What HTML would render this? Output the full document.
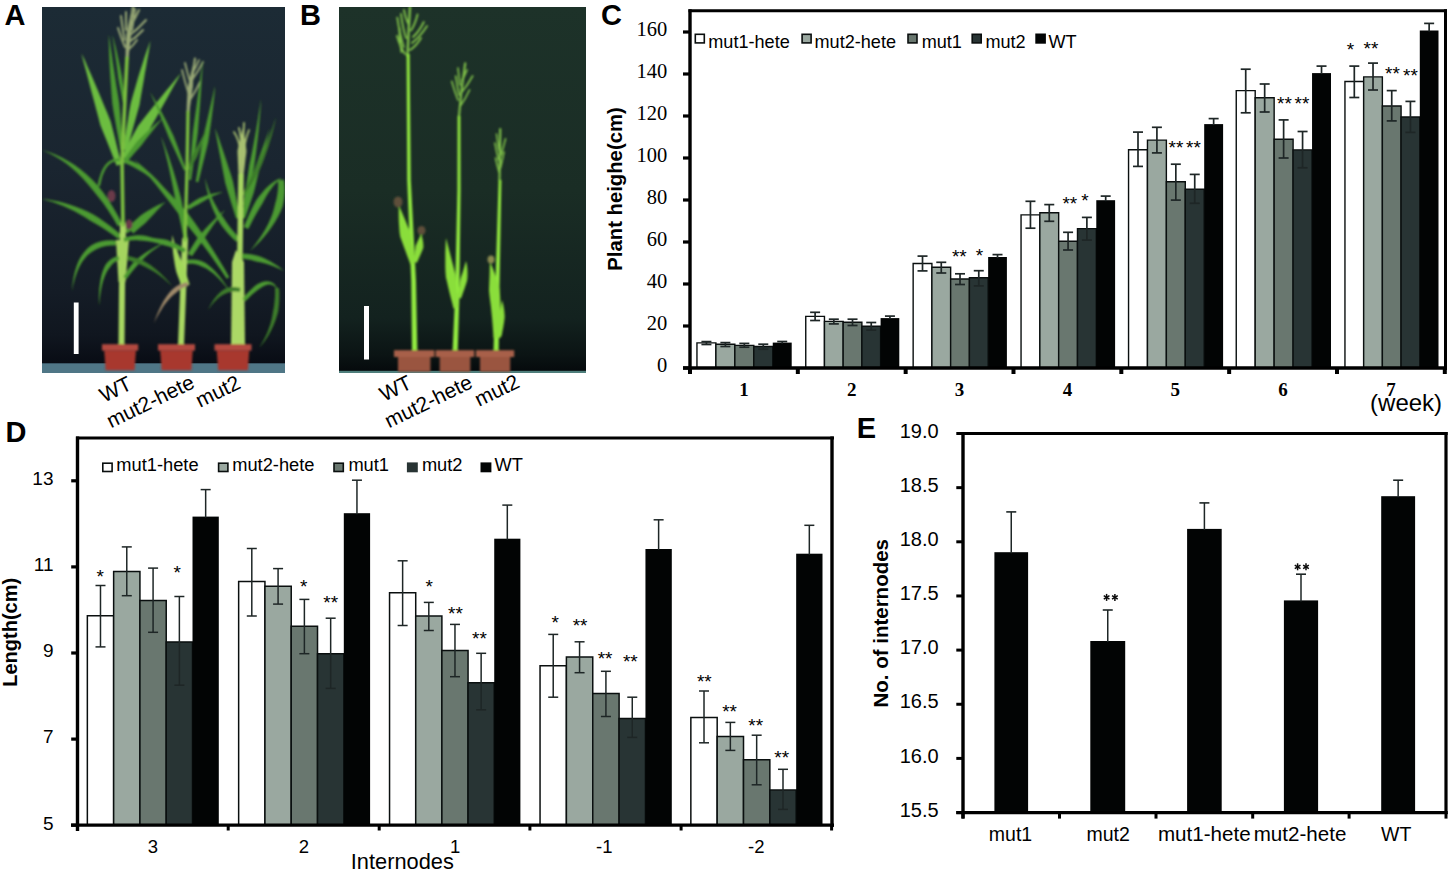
<!DOCTYPE html>
<html><head><meta charset="utf-8"><title>Figure</title>
<style>html,body{margin:0;padding:0;background:#fff;width:1450px;height:872px;overflow:hidden}svg{display:block}</style>
</head><body>
<svg width="1450" height="872" viewBox="0 0 1450 872">
<rect width="1450" height="872" fill="#fff"/>
<defs><linearGradient id="bgA" x1="0" y1="0" x2="0" y2="1"><stop offset="0" stop-color="#1c2b35"/><stop offset="0.45" stop-color="#1a2530"/><stop offset="0.8" stop-color="#141c26"/><stop offset="0.92" stop-color="#10161f"/><stop offset="1" stop-color="#080c14"/></linearGradient><linearGradient id="bgB" x1="0" y1="0" x2="0" y2="1"><stop offset="0" stop-color="#1d3229"/><stop offset="0.5" stop-color="#1a2d25"/><stop offset="0.85" stop-color="#13221f"/><stop offset="0.95" stop-color="#0b1414"/><stop offset="1" stop-color="#05090b"/></linearGradient><clipPath id="clipA"><rect x="42" y="7" width="243" height="366"/></clipPath><clipPath id="clipB"><rect x="339" y="7" width="247" height="366"/></clipPath><filter id="soft" x="-5%" y="-5%" width="110%" height="110%"><feGaussianBlur stdDeviation="0.9"/></filter></defs>
<g clip-path="url(#clipA)">
<rect x="42" y="7" width="243" height="357" fill="url(#bgA)"/>
<rect x="42" y="363.3" width="243" height="9.7" fill="#4f7686"/>
<g filter="url(#soft)">
<path d="M128.5,60.1 L128.8,56.5 L129.1,53.0 L129.5,49.4 L129.9,45.9 L130.3,42.3 L130.8,38.8 L131.2,35.2 L131.3,31.7 L131.4,28.1 L131.5,24.5 L131.6,20.9 L131.7,17.3 L131.9,13.6 L132.0,10.0 L132.0,10.0 L131.0,13.5 L130.1,17.0 L129.3,20.6 L128.5,24.1 L127.7,27.6 L127.0,31.2 L126.3,34.8 L126.1,38.4 L125.9,42.0 L125.8,45.6 L125.6,49.2 L125.6,52.8 L125.5,56.3 L125.5,59.9Z" fill="#97a774"/>
<path d="M127,58 Q129,32 133,7" fill="none" stroke="#97a774" stroke-width="2.4" stroke-linecap="round"/>
<path d="M124.5,40 Q122.75,29.5 121,16" fill="none" stroke="#97a774" stroke-width="2.0" stroke-linecap="round"/>
<path d="M125,47 Q121.5,39.0 118,28" fill="none" stroke="#97a774" stroke-width="2.0" stroke-linecap="round"/>
<path d="M130,35 Q138.0,29.0 146,20" fill="none" stroke="#97a774" stroke-width="2.0" stroke-linecap="round"/>
<path d="M129,42 Q136.0,37.5 143,30" fill="none" stroke="#97a774" stroke-width="2.0" stroke-linecap="round"/>
<path d="M131,25 Q135.0,19.0 139,10" fill="none" stroke="#97a774" stroke-width="2.0" stroke-linecap="round"/>
<path d="M128,50 Q132.5,46.5 137,40" fill="none" stroke="#97a774" stroke-width="2.0" stroke-linecap="round"/>
<path d="M126,30 Q126.0,22.5 126,12" fill="none" stroke="#97a774" stroke-width="2.0" stroke-linecap="round"/>
<path d="M132,30 Q133.5,21.0 135,9" fill="none" stroke="#97a774" stroke-width="2.0" stroke-linecap="round"/>
<path d="M121.4,164.3 L119.2,155.5 L117.1,146.9 L115.0,138.3 L112.9,129.9 L110.7,121.5 L107.5,113.6 L104.2,105.7 L101.0,98.0 L97.8,90.3 L94.6,82.8 L91.4,75.3 L88.1,67.9 L84.9,60.6 L81.5,53.5 L81.5,53.5 L83.4,61.2 L85.5,68.9 L87.5,76.6 L89.6,84.5 L91.7,92.4 L93.9,100.4 L96.0,108.5 L98.2,116.7 L100.3,124.9 L103.5,132.9 L106.8,141.0 L110.1,149.2 L113.3,157.4 L116.6,165.7Z" fill="#6cbd40"/>
<path d="M123.6,149.8 L122.6,139.9 L121.6,130.2 L120.8,120.8 L120.0,111.6 L119.2,102.7 L117.8,94.1 L116.4,85.8 L115.2,77.7 L114.0,69.9 L112.8,62.3 L111.8,54.9 L110.7,47.9 L109.8,41.0 L108.8,34.4 L108.8,34.4 L108.8,41.1 L109.0,48.0 L109.2,55.2 L109.5,62.6 L109.9,70.3 L110.4,78.2 L111.0,86.4 L111.6,94.8 L112.3,103.5 L113.7,112.4 L115.3,121.5 L116.9,130.8 L118.7,140.4 L120.4,150.2Z" fill="#4c9a30"/>
<path d="M125.9,109.9 L125.1,102.8 L124.4,96.0 L123.6,89.5 L122.9,83.2 L122.1,77.2 L121.0,71.4 L119.9,66.0 L118.8,60.8 L117.7,55.8 L116.7,51.2 L115.6,46.7 L114.5,42.6 L113.5,38.6 L112.4,35.0 L112.4,35.0 L112.9,38.8 L113.5,42.8 L114.1,47.0 L114.8,51.5 L115.4,56.3 L116.1,61.3 L116.8,66.5 L117.5,72.0 L118.2,77.8 L119.3,83.7 L120.5,90.0 L121.7,96.4 L122.9,103.1 L124.1,110.1Z" fill="#4c9a30"/>
<path d="M127.0,150.4 L129.6,140.7 L132.2,131.3 L134.7,122.2 L137.1,113.4 L139.5,104.9 L140.9,96.6 L142.3,88.5 L143.7,80.8 L144.9,73.3 L146.2,66.2 L147.3,59.4 L148.5,52.9 L149.5,46.7 L150.4,40.8 L150.4,40.8 L148.3,46.4 L146.2,52.3 L144.1,58.6 L142.0,65.2 L139.8,72.1 L137.6,79.3 L135.4,86.9 L133.1,94.8 L130.8,102.9 L129.2,111.6 L127.8,120.7 L126.2,130.0 L124.6,139.6 L123.0,149.6Z" fill="#6cbd40"/>
<path d="M126.3,159.5 L130.6,154.1 L134.9,148.7 L139.3,143.2 L143.8,137.7 L148.2,132.1 L151.6,125.8 L155.2,119.4 L158.8,113.0 L162.4,106.5 L166.1,99.9 L169.8,93.3 L173.5,86.6 L177.3,79.9 L181.0,73.0 L181.0,73.0 L175.9,78.9 L171.0,84.9 L166.1,90.8 L161.3,96.7 L156.6,102.5 L151.9,108.3 L147.3,114.1 L142.8,119.8 L138.3,125.5 L134.8,131.8 L131.4,138.0 L128.1,144.2 L124.9,150.4 L121.7,156.5Z" fill="#6cbd40"/>
<path d="M122.2,223.8 L117.7,215.3 L113.0,207.2 L108.2,199.6 L103.2,192.4 L98.0,185.7 L92.3,179.7 L86.4,174.3 L80.4,169.3 L74.3,164.8 L68.1,160.9 L61.7,157.4 L55.2,154.4 L48.7,151.9 L42.0,150.0 L42.0,150.0 L48.3,152.8 L54.5,156.0 L60.4,159.6 L66.2,163.6 L71.8,168.1 L77.3,172.9 L82.6,178.2 L87.7,184.0 L92.7,190.1 L97.9,196.4 L103.1,203.1 L108.1,210.3 L113.0,218.0 L117.8,226.2Z" fill="#4c9a30"/>
<path d="M121.6,235.0 L115.9,230.4 L110.3,226.0 L104.7,221.9 L99.1,218.0 L93.4,214.5 L87.5,211.6 L81.7,209.0 L75.9,206.7 L70.1,204.7 L64.4,203.0 L58.7,201.5 L53.1,200.4 L47.5,199.5 L42.0,199.0 L42.0,199.0 L47.3,200.5 L52.7,202.1 L58.0,204.0 L63.3,206.1 L68.6,208.5 L74.0,211.1 L79.3,214.0 L84.6,217.1 L89.9,220.5 L95.6,223.7 L101.2,227.1 L106.9,230.8 L112.7,234.7 L118.4,239.0Z" fill="#4c9a30"/>
<path d="M99,185 Q104,158 120,160" fill="none" stroke="#4c9a30" stroke-width="2.5" stroke-linecap="round"/>
<path d="M120.6,162.0 L123.9,162.9 L127.2,164.1 L130.5,165.5 L133.8,167.3 L137.3,169.3 L140.9,171.3 L144.6,173.6 L148.3,176.2 L152.1,179.1 L156.0,182.3 L159.9,185.8 L163.9,189.6 L167.9,193.7 L172.0,198.0 L172.0,198.0 L168.4,193.2 L164.8,188.7 L161.2,184.5 L157.6,180.6 L154.1,176.9 L150.5,173.5 L146.9,170.4 L143.4,167.6 L139.8,165.0 L136.1,163.0 L132.4,161.3 L128.7,159.9 L125.0,158.8 L121.4,158.0Z" fill="#4c9a30"/>
<path d="M127.4,233.5 L130.9,230.6 L134.3,227.8 L137.6,225.2 L140.9,222.7 L144.0,220.4 L146.7,217.8 L149.4,215.4 L152.0,213.1 L154.5,210.9 L157.0,208.9 L159.4,207.0 L161.7,205.2 L163.9,203.6 L166.0,202.0 L166.0,202.0 L163.5,202.9 L160.9,203.9 L158.2,205.1 L155.4,206.5 L152.6,208.1 L149.6,209.8 L146.6,211.6 L143.5,213.6 L140.3,215.8 L137.3,218.4 L134.2,221.2 L131.1,224.2 L127.9,227.3 L124.6,230.5Z" fill="#4c9a30"/>
<path d="M127.6,161.2 L130.5,157.8 L133.3,154.5 L136.1,151.3 L138.9,148.2 L141.7,145.1 L144.1,141.8 L146.5,138.6 L148.9,135.4 L151.3,132.4 L153.7,129.4 L156.0,126.4 L158.4,123.6 L160.7,120.8 L163.0,118.0 L163.0,118.0 L160.1,120.2 L157.3,122.5 L154.4,124.9 L151.6,127.4 L148.7,130.0 L145.9,132.7 L143.0,135.4 L140.1,138.3 L137.2,141.3 L134.6,144.6 L132.1,148.0 L129.5,151.5 L127.0,155.1 L124.4,158.8Z" fill="#4c9a30"/>
<path d="M121.5,345.0 L122.0,290.0 L123.0,225.0" fill="none" stroke="#a8d862" stroke-width="6.0" stroke-linecap="round" stroke-linejoin="round"/>
<path d="M123.0,225.0 L122.0,160.0 L127.0,58.0" fill="none" stroke="#7cc040" stroke-width="3.6" stroke-linecap="round" stroke-linejoin="round"/>
<path d="M116.0,240.0 L129.0,240.0 L125.5,282.0 L118.5,282.0Z" fill="#a4d45e"/>
<path d="M116.2,240.5 L110.7,240.2 L105.4,240.6 L100.4,241.5 L95.7,243.0 L91.4,245.2 L87.6,248.3 L84.3,251.9 L81.3,256.0 L78.8,260.6 L76.7,265.7 L75.0,271.3 L73.6,277.3 L72.6,283.9 L72.0,291.0 L72.0,291.0 L73.4,284.1 L75.1,277.7 L77.1,272.0 L79.4,266.8 L81.9,262.3 L84.7,258.4 L87.7,255.1 L91.0,252.4 L94.5,250.3 L98.0,248.4 L101.9,246.9 L106.2,245.9 L110.8,245.4 L115.8,245.5Z" fill="#4c9a30"/>
<path d="M118.6,256.0 L115.6,256.8 L112.8,258.1 L110.2,259.8 L107.8,261.9 L105.7,264.6 L104.1,267.7 L102.7,271.2 L101.5,275.1 L100.6,279.3 L99.9,283.9 L99.3,288.9 L99.0,294.2 L98.9,299.9 L99.0,306.0 L99.0,306.0 L99.6,299.9 L100.3,294.3 L101.2,289.1 L102.2,284.3 L103.4,280.0 L104.8,276.2 L106.3,272.8 L108.0,269.8 L109.8,267.4 L111.4,265.2 L113.2,263.3 L115.1,261.9 L117.1,260.7 L119.4,260.0Z" fill="#4c9a30"/>
<path d="M124.6,241.9 L127.6,241.1 L130.6,240.6 L133.6,240.3 L136.8,240.1 L140.0,240.2 L143.3,240.1 L146.7,240.2 L150.3,240.5 L154.0,241.1 L157.7,241.9 L161.6,242.8 L165.6,244.0 L169.8,245.4 L174.0,247.0 L174.0,247.0 L170.0,244.8 L166.1,242.8 L162.2,241.1 L158.4,239.6 L154.7,238.3 L150.9,237.2 L147.3,236.3 L143.7,235.6 L140.1,235.2 L136.5,235.3 L133.1,235.7 L129.8,236.3 L126.5,237.1 L123.4,238.1Z" fill="#4c9a30"/>
<path d="M126.7,279.0 L128.7,276.1 L130.8,273.2 L133.0,270.4 L135.3,267.7 L137.7,265.1 L140.1,262.4 L142.6,259.7 L145.2,257.1 L148.0,254.6 L150.9,252.1 L154.0,249.8 L157.2,247.4 L160.5,245.2 L164.0,243.0 L164.0,243.0 L160.2,244.6 L156.5,246.3 L153.0,248.2 L149.5,250.2 L146.2,252.3 L143.0,254.5 L139.9,256.8 L137.0,259.2 L134.1,261.7 L131.7,264.6 L129.4,267.6 L127.2,270.6 L125.2,273.8 L123.3,277.0Z" fill="#4c9a30"/>
<path d="M126.7,260.0 L129.8,260.7 L132.9,261.7 L136.0,262.8 L139.1,264.1 L142.2,265.6 L145.4,267.0 L148.7,268.7 L152.0,270.5 L155.3,272.6 L158.6,274.8 L161.9,277.3 L165.3,280.0 L168.6,282.9 L172.0,286.0 L172.0,286.0 L169.1,282.4 L166.1,279.1 L163.1,275.9 L160.1,273.0 L157.0,270.2 L153.9,267.7 L150.8,265.3 L147.6,263.2 L144.4,261.2 L141.0,259.7 L137.6,258.5 L134.2,257.4 L130.8,256.6 L127.3,256.0Z" fill="#3d7d2a"/>
<ellipse cx="111.5" cy="196" rx="4" ry="6" fill="#6a3a4a"/>
<ellipse cx="129" cy="224.5" rx="3.5" ry="5" fill="#6a3a4a"/>
<path d="M189.5,112.1 L189.9,108.3 L190.4,104.5 L190.9,100.8 L191.4,97.1 L191.9,93.5 L192.4,89.9 L193.0,86.3 L193.1,82.7 L193.2,79.2 L193.4,75.7 L193.5,72.2 L193.7,68.8 L193.9,65.4 L194.0,62.0 L194.0,62.0 L193.0,65.2 L192.1,68.5 L191.2,71.9 L190.4,75.3 L189.6,78.7 L188.8,82.2 L188.0,85.7 L187.7,89.3 L187.5,93.0 L187.2,96.7 L187.0,100.4 L186.8,104.2 L186.7,108.0 L186.5,111.9Z" fill="#97a774"/>
<path d="M188,112 Q191,85 195,58.6" fill="none" stroke="#97a774" stroke-width="2.2" stroke-linecap="round"/>
<path d="M189,95 Q185.5,84.0 182,70" fill="none" stroke="#97a774" stroke-width="1.8" stroke-linecap="round"/>
<path d="M191,85 Q188.0,75.5 185,63" fill="none" stroke="#97a774" stroke-width="1.8" stroke-linecap="round"/>
<path d="M192,80 Q197.5,72.5 203,62" fill="none" stroke="#97a774" stroke-width="1.8" stroke-linecap="round"/>
<path d="M190,100 Q195.0,92.5 200,82" fill="none" stroke="#97a774" stroke-width="1.8" stroke-linecap="round"/>
<path d="M193,72 Q196.0,67.5 199,60" fill="none" stroke="#97a774" stroke-width="1.8" stroke-linecap="round"/>
<path d="M191.1,180.1 L192.5,170.3 L193.9,160.6 L195.2,151.1 L196.6,141.8 L197.8,132.7 L198.5,123.7 L199.2,115.0 L199.9,106.4 L200.5,98.0 L201.1,89.8 L201.6,81.8 L202.1,74.0 L202.6,66.4 L203.0,59.0 L203.0,59.0 L201.9,66.3 L200.9,73.9 L199.8,81.6 L198.7,89.6 L197.6,97.7 L196.5,106.0 L195.3,114.5 L194.1,123.2 L192.9,132.2 L192.1,141.3 L191.3,150.7 L190.5,160.2 L189.7,169.9 L188.9,179.9Z" fill="#4c9a30"/>
<path d="M198.3,182.3 L200.5,173.6 L202.5,165.3 L204.5,157.2 L206.4,149.4 L208.2,141.9 L209.3,134.5 L210.3,127.4 L211.3,120.7 L212.1,114.2 L212.9,108.0 L213.6,102.0 L214.2,96.4 L214.7,91.1 L215.0,86.0 L215.0,86.0 L213.8,90.9 L212.7,96.2 L211.4,101.7 L210.1,107.5 L208.7,113.5 L207.2,119.9 L205.7,126.6 L204.0,133.5 L202.3,140.7 L201.1,148.3 L199.9,156.2 L198.6,164.5 L197.2,172.9 L195.7,181.7Z" fill="#4c9a30"/>
<path d="M186.0,169.6 L183.5,162.4 L180.9,155.5 L178.5,148.8 L176.0,142.3 L173.6,136.1 L170.8,130.3 L168.1,124.7 L165.3,119.3 L162.7,114.2 L160.1,109.3 L157.5,104.6 L155.0,100.2 L152.5,96.0 L150.0,92.0 L150.0,92.0 L151.9,96.3 L153.8,100.7 L155.8,105.4 L157.9,110.3 L160.0,115.4 L162.2,120.8 L164.4,126.3 L166.7,132.1 L169.1,138.1 L171.9,144.1 L174.8,150.3 L177.8,156.8 L180.9,163.5 L184.0,170.4Z" fill="#4c9a30"/>
<path d="M188.0,239.7 L186.7,231.1 L185.4,222.7 L184.0,214.5 L182.6,206.5 L181.1,198.6 L179.1,190.9 L177.1,183.4 L174.9,176.1 L172.8,169.0 L170.5,162.1 L168.3,155.3 L165.9,148.7 L163.5,142.2 L161.0,136.0 L161.0,136.0 L162.7,142.5 L164.5,149.1 L166.1,155.9 L167.8,162.8 L169.4,169.9 L170.9,177.2 L172.4,184.6 L173.9,192.1 L175.3,199.8 L177.1,207.6 L178.9,215.5 L180.7,223.6 L182.4,231.9 L184.0,240.3Z" fill="#4c9a30"/>
<path d="M229.3,277.2 L224.1,268.0 L218.6,258.9 L213.0,249.9 L207.2,240.9 L201.2,231.9 L195.0,223.1 L188.6,214.3 L181.4,206.1 L174.0,198.0 L166.3,190.0 L158.6,182.1 L150.6,174.3 L142.4,166.6 L134.0,159.0 L134.0,159.0 L141.4,167.5 L148.7,176.0 L155.8,184.6 L162.7,193.2 L169.4,201.8 L176.0,210.5 L182.4,219.2 L189.2,227.5 L195.9,235.8 L202.4,244.3 L208.8,252.8 L214.9,261.4 L220.9,270.0 L226.7,278.8Z" fill="#4c9a30"/>
<path d="M189.0,170.5 L190.7,167.8 L192.3,165.0 L194.0,162.3 L195.6,159.5 L197.1,156.8 L198.2,153.8 L199.3,150.8 L200.3,147.8 L201.4,144.9 L202.4,141.9 L203.3,138.9 L204.3,136.0 L205.2,133.0 L206.0,130.0 L206.0,130.0 L204.5,132.7 L203.1,135.5 L201.6,138.2 L200.2,141.0 L198.7,143.7 L197.2,146.4 L195.7,149.2 L194.2,151.9 L192.6,154.7 L191.5,157.6 L190.4,160.6 L189.3,163.5 L188.2,166.5 L187.0,169.5Z" fill="#3d7d2a"/>
<path d="M189.2,209.6 L191.6,208.1 L194.1,206.6 L196.5,205.2 L199.0,203.9 L201.4,202.6 L203.7,201.2 L206.1,199.8 L208.4,198.5 L210.8,197.2 L213.2,196.1 L215.6,195.0 L218.1,193.9 L220.5,192.9 L223.0,192.0 L223.0,192.0 L220.3,192.3 L217.7,192.7 L215.0,193.2 L212.4,193.8 L209.7,194.5 L207.1,195.3 L204.4,196.2 L201.8,197.2 L199.1,198.3 L196.6,199.7 L194.1,201.2 L191.7,202.9 L189.3,204.6 L186.8,206.4Z" fill="#4c9a30"/>
<path d="M181.0,345.0 L183.0,294.0 L185.0,240.0" fill="none" stroke="#a8d862" stroke-width="6.0" stroke-linecap="round" stroke-linejoin="round"/>
<path d="M185.0,240.0 L187.0,170.0 L188.0,112.0" fill="none" stroke="#7cc040" stroke-width="3.3" stroke-linecap="round" stroke-linejoin="round"/>
<path d="M189.7,284.6 L188.5,280.9 L187.3,277.2 L186.1,273.5 L185.0,269.9 L183.6,266.3 L182.1,262.9 L180.7,259.4 L179.3,255.9 L178.0,252.4 L176.7,248.9 L175.5,245.4 L174.3,242.0 L173.2,238.5 L172.0,235.0 L172.0,235.0 L172.0,238.7 L172.2,242.4 L172.5,246.1 L172.8,249.8 L173.2,253.6 L173.7,257.3 L174.3,261.1 L174.9,264.9 L175.6,268.8 L176.5,272.6 L177.9,276.3 L179.3,280.0 L180.7,283.7 L182.3,287.4Z" fill="#a2d85a"/>
<path d="M186.0,249.3 L182.4,247.0 L178.6,244.9 L174.7,243.0 L170.6,241.3 L166.4,239.8 L162.0,239.0 L157.4,238.4 L152.8,238.0 L148.0,237.8 L143.2,237.8 L138.3,238.1 L133.3,238.5 L128.2,239.1 L123.0,240.0 L123.0,240.0 L128.3,239.9 L133.4,240.0 L138.3,240.3 L143.1,240.7 L147.7,241.3 L152.2,242.1 L156.6,243.1 L160.8,244.2 L164.8,245.6 L168.8,246.6 L172.8,247.9 L176.6,249.3 L180.3,250.9 L184.0,252.7Z" fill="#4c9a30"/>
<path d="M133.4,233.5 L136.0,231.1 L138.6,228.8 L141.1,226.6 L143.7,224.4 L146.2,222.2 L148.4,219.8 L150.6,217.5 L152.7,215.2 L154.9,212.9 L157.0,210.6 L159.0,208.4 L161.1,206.3 L163.1,204.1 L165.0,202.0 L165.0,202.0 L162.6,203.6 L160.2,205.3 L157.8,207.1 L155.4,208.9 L152.9,210.7 L150.4,212.6 L147.9,214.5 L145.4,216.5 L142.8,218.5 L140.4,220.8 L138.0,223.2 L135.6,225.6 L133.1,228.1 L130.6,230.5Z" fill="#4c9a30"/>
<path d="M192.1,256.3 L194.4,252.8 L196.7,249.4 L199.0,246.1 L201.4,242.8 L203.8,239.5 L205.9,236.1 L208.1,232.7 L210.4,229.4 L212.7,226.0 L215.1,222.8 L217.5,219.5 L219.9,216.3 L222.5,213.2 L225.0,210.0 L225.0,210.0 L221.9,212.6 L218.8,215.3 L215.8,218.1 L212.9,220.9 L210.0,223.8 L207.2,226.8 L204.4,229.8 L201.6,232.9 L198.9,236.0 L196.6,239.5 L194.3,243.0 L192.1,246.5 L190.0,250.1 L187.9,253.7Z" fill="#4c9a30"/>
<path d="M187.4,264.0 L190.1,263.7 L192.9,263.8 L195.6,264.3 L198.3,265.1 L201.1,266.2 L204.1,267.5 L207.1,269.1 L210.2,271.2 L213.4,273.6 L216.6,276.5 L219.9,279.8 L223.2,283.4 L226.6,287.5 L230.0,292.0 L230.0,292.0 L227.1,287.1 L224.2,282.7 L221.3,278.6 L218.4,274.9 L215.4,271.5 L212.4,268.5 L209.4,265.9 L206.3,263.6 L203.1,261.7 L199.8,260.5 L196.5,259.8 L193.2,259.4 L189.9,259.5 L186.6,260.0Z" fill="#4c9a30"/>
<path d="M187.6,282.0 L184.5,282.7 L181.5,283.8 L178.6,285.1 L175.7,286.8 L172.9,288.9 L170.4,291.5 L168.0,294.5 L165.7,297.7 L163.6,301.1 L161.5,304.9 L159.5,309.0 L157.5,313.4 L155.7,318.0 L154.0,323.0 L154.0,323.0 L156.3,318.3 L158.7,313.9 L161.1,309.9 L163.5,306.1 L166.0,302.8 L168.5,299.7 L171.0,297.0 L173.5,294.7 L176.1,292.7 L178.4,290.8 L180.8,289.1 L183.3,287.8 L185.8,286.7 L188.4,286.0Z" fill="#a08a6a"/>
<path d="M243.5,176.1 L243.9,172.4 L244.4,168.8 L244.8,165.2 L245.2,161.6 L245.6,158.1 L246.1,154.6 L246.5,151.2 L246.1,147.8 L245.6,144.4 L245.1,141.0 L244.7,137.7 L244.2,134.4 L243.6,131.2 L243.0,128.0 L243.0,128.0 L242.1,131.1 L241.3,134.3 L240.5,137.5 L239.7,140.8 L239.0,144.1 L238.2,147.4 L237.5,150.8 L237.6,154.3 L237.8,157.8 L237.9,161.3 L238.1,164.9 L238.2,168.5 L238.4,172.2 L238.5,175.9Z" fill="#a8c070"/>
<path d="M241,176 Q243,145 244,123" fill="none" stroke="#a8c070" stroke-width="1.8" stroke-linecap="round"/>
<path d="M241,176 Q243,145 234,132" fill="none" stroke="#a8c070" stroke-width="1.8" stroke-linecap="round"/>
<path d="M241,176 Q243,145 249,130" fill="none" stroke="#a8c070" stroke-width="1.8" stroke-linecap="round"/>
<path d="M241,176 Q243,145 239,128" fill="none" stroke="#a8c070" stroke-width="1.8" stroke-linecap="round"/>
<path d="M239.9,217.5 L238.5,209.9 L237.1,202.5 L235.7,195.2 L234.3,188.1 L232.9,181.2 L230.9,174.6 L228.8,168.2 L226.8,162.0 L224.8,155.9 L222.8,150.0 L220.8,144.2 L218.9,138.6 L217.0,133.2 L215.0,128.0 L215.0,128.0 L215.9,133.5 L216.9,139.2 L218.0,145.0 L219.1,150.9 L220.3,157.1 L221.5,163.3 L222.7,169.8 L224.0,176.4 L225.3,183.2 L227.3,189.9 L229.4,196.8 L231.6,203.9 L233.8,211.1 L236.1,218.5Z" fill="#4c9a30"/>
<path d="M244.9,218.5 L246.6,213.8 L248.3,208.8 L250.1,203.6 L252.0,198.1 L253.9,192.3 L255.4,186.2 L256.9,179.8 L258.5,173.1 L260.2,166.2 L262.0,159.1 L263.9,151.7 L265.9,144.1 L267.9,136.2 L270.0,128.0 L270.0,128.0 L267.0,135.9 L264.2,143.5 L261.5,150.9 L258.9,158.1 L256.3,165.1 L253.9,171.8 L251.6,178.2 L249.4,184.4 L247.3,190.4 L245.8,196.3 L244.5,202.0 L243.2,207.4 L242.1,212.5 L241.1,217.5Z" fill="#4c9a30"/>
<path d="M245.1,205.2 L247.1,197.5 L248.9,189.7 L250.8,182.0 L252.5,174.3 L254.1,166.7 L255.2,159.0 L256.2,151.3 L257.1,143.7 L258.0,136.1 L258.8,128.6 L259.4,121.2 L260.1,113.7 L260.6,106.3 L261.0,99.0 L261.0,99.0 L259.9,106.3 L258.8,113.6 L257.6,120.9 L256.4,128.3 L255.1,135.7 L253.7,143.2 L252.3,150.7 L250.8,158.2 L249.2,165.8 L248.1,173.5 L246.9,181.2 L245.6,189.0 L244.3,196.9 L242.9,204.8Z" fill="#4c9a30"/>
<path d="M244.0,195.6 L247.3,190.7 L250.5,185.7 L253.7,180.6 L256.7,175.4 L259.5,170.0 L261.9,164.4 L264.1,158.8 L266.1,153.0 L268.1,147.2 L269.9,141.3 L271.7,135.3 L273.2,129.3 L274.7,123.2 L276.0,117.0 L276.0,117.0 L274.0,123.0 L272.0,128.9 L269.9,134.8 L267.7,140.5 L265.4,146.2 L263.0,151.8 L260.4,157.2 L257.8,162.6 L255.1,167.9 L252.7,173.3 L250.2,178.7 L247.6,184.0 L244.9,189.2 L242.0,194.4Z" fill="#3d7d2a"/>
<path d="M248.3,229.0 L251.2,223.2 L254.0,217.7 L256.8,212.7 L259.6,208.0 L262.3,203.7 L264.5,199.5 L266.7,195.6 L268.9,192.1 L271.1,189.0 L273.3,186.1 L275.5,183.6 L277.6,181.5 L279.8,179.6 L282.0,178.0 L282.0,178.0 L279.3,178.8 L276.6,180.0 L273.8,181.7 L271.0,183.7 L268.1,186.2 L265.2,189.1 L262.3,192.4 L259.3,196.0 L256.4,200.1 L253.8,204.7 L251.3,209.8 L248.8,215.2 L246.3,220.9 L243.7,227.0Z" fill="#4c9a30"/>
<path d="M278.0,180.3 L278.2,185.1 L277.9,189.9 L277.3,194.6 L276.4,199.3 L275.1,204.1 L273.9,209.0 L272.4,214.0 L270.4,219.1 L268.0,224.2 L265.2,229.4 L262.0,234.7 L258.4,240.1 L254.4,245.5 L250.0,251.0 L250.0,251.0 L255.2,246.2 L260.0,241.4 L264.4,236.5 L268.4,231.6 L272.0,226.6 L275.3,221.6 L278.1,216.5 L280.6,211.4 L282.7,206.2 L283.8,200.8 L284.5,195.5 L284.8,190.2 L284.6,184.9 L284.0,179.7Z" fill="#4c9a30"/>
<path d="M239.7,238.2 L236.3,234.6 L233.0,230.8 L229.9,227.0 L227.0,223.0 L224.3,219.0 L221.5,215.0 L218.8,210.9 L216.4,206.6 L214.0,202.2 L211.9,197.7 L209.9,193.0 L208.1,188.1 L206.5,183.1 L205.0,178.0 L205.0,178.0 L205.7,183.3 L206.6,188.5 L207.8,193.6 L209.2,198.7 L210.8,203.6 L212.6,208.4 L214.7,213.1 L216.9,217.7 L219.4,222.2 L222.3,226.4 L225.5,230.5 L228.9,234.4 L232.5,238.2 L236.3,241.8Z" fill="#4c9a30"/>
<path d="M238.0,345.0 L240.0,250.0 L241.0,176.0" fill="none" stroke="#a8d862" stroke-width="5.5" stroke-linecap="round" stroke-linejoin="round"/>
<path d="M231.0,345.0 L245.0,345.0 L244.0,262.0 L236.0,250.0 L232.0,262.0Z" fill="#acd866"/>
<path d="M241.8,258.5 L244.9,258.9 L248.1,259.5 L251.1,260.1 L254.2,260.9 L257.1,261.7 L260.2,262.3 L263.2,263.0 L266.2,263.8 L269.2,264.7 L272.2,265.8 L275.2,266.9 L278.1,268.2 L281.0,269.5 L284.0,271.0 L284.0,271.0 L281.5,268.9 L278.9,266.8 L276.2,265.0 L273.4,263.2 L270.6,261.5 L267.7,260.0 L264.8,258.5 L261.8,257.2 L258.7,256.0 L255.5,255.2 L252.2,254.6 L248.9,254.1 L245.6,253.8 L242.2,253.5Z" fill="#4c9a30"/>
<path d="M245.5,301.3 L248.9,297.7 L252.1,294.5 L255.2,291.9 L258.0,289.7 L260.6,288.0 L262.9,286.5 L265.1,285.4 L267.0,284.7 L268.9,284.5 L270.8,284.6 L272.6,285.2 L274.4,286.3 L276.2,287.9 L278.0,290.0 L278.0,290.0 L276.8,287.5 L275.3,285.3 L273.6,283.6 L271.5,282.3 L269.2,281.6 L266.7,281.3 L263.9,281.6 L261.1,282.4 L258.1,283.8 L255.1,285.8 L252.1,288.4 L249.0,291.4 L245.8,294.8 L242.5,298.7Z" fill="#4c9a30"/>
<path d="M275.0,288.1 L275.1,292.8 L274.9,297.5 L274.5,302.0 L274.0,306.5 L273.2,310.8 L272.5,315.1 L271.6,319.4 L270.5,323.7 L269.1,327.8 L267.6,332.0 L265.8,336.0 L263.7,340.1 L261.5,344.0 L259.0,348.0 L259.0,348.0 L262.0,344.4 L264.8,340.7 L267.4,336.9 L269.7,333.0 L271.8,329.0 L273.7,324.8 L275.4,320.6 L276.8,316.2 L278.1,311.7 L278.7,307.1 L279.1,302.4 L279.3,297.6 L279.3,292.8 L279.0,287.9Z" fill="#3d7d2a"/>
<path d="M240.5,288.1 L237.8,287.4 L235.0,287.0 L232.3,286.9 L229.5,287.2 L226.8,287.9 L224.3,289.2 L222.0,290.8 L219.7,292.7 L217.5,294.9 L215.4,297.4 L213.5,300.1 L211.6,303.1 L209.7,306.4 L208.0,310.0 L208.0,310.0 L210.3,306.8 L212.6,303.8 L214.9,301.2 L217.2,299.0 L219.5,297.0 L221.8,295.4 L224.0,294.2 L226.3,293.2 L228.5,292.6 L230.5,291.9 L232.7,291.5 L234.8,291.4 L237.1,291.5 L239.5,291.9Z" fill="#3d7d2a"/>
<path d="M104.3,350.6 L135.9,350.6 L134.6,370.2 L105.6,370.2Z" fill="#a8392f"/>
<rect x="102" y="344.2" width="36.19999999999999" height="6.4" fill="#b44a40"/>
<path d="M160.3,350.6 L192.7,350.6 L191.4,370.2 L161.6,370.2Z" fill="#a8392f"/>
<rect x="158" y="344.2" width="37" height="6.4" fill="#b44a40"/>
<path d="M216.8,350.6 L249.2,350.6 L247.9,370.2 L218.1,370.2Z" fill="#a8392f"/>
<rect x="214.5" y="344.2" width="37.0" height="6.4" fill="#b44a40"/>
</g>
<rect x="73.8" y="302.5" width="4.8" height="51.5" fill="#ffffff"/>
</g>
<g clip-path="url(#clipB)">
<rect x="339" y="7" width="247" height="366" fill="url(#bgB)"/>
<rect x="339" y="370.8" width="247" height="2.2" fill="#4f7f7c"/>
<g filter="url(#soft)">
<path d="M407.5,56 Q408.5,30 410,7" fill="none" stroke="#7fc048" stroke-width="2.4" stroke-linecap="round"/>
<path d="M403.7,47 Q399.7,34.35 397.3,17.7" fill="none" stroke="#7fc048" stroke-width="1.9" stroke-linecap="round"/>
<path d="M401.5,52 Q399.65,42.15 399.4,28.3" fill="none" stroke="#7fc048" stroke-width="1.9" stroke-linecap="round"/>
<path d="M412,43 Q420.3,36.5 427,26" fill="none" stroke="#7fc048" stroke-width="1.9" stroke-linecap="round"/>
<path d="M413,37 Q419.2,31.5 423.8,22" fill="none" stroke="#7fc048" stroke-width="1.9" stroke-linecap="round"/>
<path d="M411,30.5 Q415.05,24.5 417.5,14.5" fill="none" stroke="#7fc048" stroke-width="1.9" stroke-linecap="round"/>
<path d="M406,38 Q402.7,28.0 401,14" fill="none" stroke="#7fc048" stroke-width="1.9" stroke-linecap="round"/>
<path d="M409,25 Q405.7,19.5 404,10" fill="none" stroke="#7fc048" stroke-width="1.9" stroke-linecap="round"/>
<path d="M410,50 Q416.3,46.0 421,38" fill="none" stroke="#7fc048" stroke-width="1.9" stroke-linecap="round"/>
<path d="M405,54 Q400.2,47.0 397,36" fill="none" stroke="#7fc048" stroke-width="1.9" stroke-linecap="round"/>
<path d="M412.0,352.0 L417.4,352.0 L416.0,281.0 L410.8,180.0 L409.6,54.0 L406.6,54.0 L407.2,180.0 L411.2,281.0Z" fill="#92ea40"/>
<path d="M415.4,263.3 L414.5,258.1 L413.6,253.1 L412.8,248.2 L412.0,243.5 L411.4,238.9 L410.7,234.4 L409.4,230.3 L407.8,226.4 L406.3,222.7 L404.8,219.1 L403.3,215.6 L401.9,212.2 L400.5,209.0 L399.0,206.0 L399.0,206.0 L398.7,209.4 L398.7,212.9 L398.7,216.6 L398.8,220.4 L399.0,224.3 L399.3,228.4 L399.6,232.7 L400.3,237.0 L401.9,241.3 L403.5,245.7 L405.2,250.2 L406.9,254.9 L408.7,259.7 L410.6,264.7Z" fill="#8ade3a"/>
<path d="M416.9,262.7 L418.0,260.3 L419.0,258.0 L420.0,255.8 L421.0,253.6 L421.8,251.5 L422.7,249.4 L423.4,247.3 L423.3,245.2 L423.2,243.1 L422.9,241.1 L422.6,239.2 L422.2,237.4 L421.7,235.6 L421.0,234.0 L421.0,234.0 L420.3,235.6 L419.6,237.2 L418.9,238.8 L418.1,240.5 L417.3,242.1 L416.5,243.9 L415.6,245.7 L415.4,247.7 L415.2,249.8 L414.9,251.9 L414.6,254.2 L414.1,256.5 L413.7,258.9 L413.1,261.3Z" fill="#8ade3a"/>
<ellipse cx="398" cy="202" rx="4.5" ry="5.5" fill="#5e4f3a"/>
<ellipse cx="421.5" cy="230.5" rx="4" ry="4.5" fill="#5e4f3a"/>
<path d="M459,116 Q461,90 465.2,63.4" fill="none" stroke="#7fc048" stroke-width="2.2" stroke-linecap="round"/>
<path d="M458,100 Q454.9,92.2 451.8,81.4" fill="none" stroke="#7fc048" stroke-width="1.7" stroke-linecap="round"/>
<path d="M459,95 Q457.35,87.0 455.7,76" fill="none" stroke="#7fc048" stroke-width="1.7" stroke-linecap="round"/>
<path d="M462,92 Q467.3,85.5 472.6,76" fill="none" stroke="#7fc048" stroke-width="1.7" stroke-linecap="round"/>
<path d="M461,105 Q465.25,99.0 469.5,90" fill="none" stroke="#7fc048" stroke-width="1.7" stroke-linecap="round"/>
<path d="M460,85 Q459.0,78.0 458,68" fill="none" stroke="#7fc048" stroke-width="1.7" stroke-linecap="round"/>
<path d="M462,80 Q464.5,76.5 467,70" fill="none" stroke="#7fc048" stroke-width="1.7" stroke-linecap="round"/>
<path d="M452.5,352.0 L457.7,352.0 L459.3,300.0 L460.6,190.0 L460.4,116.0 L457.6,116.0 L457.4,190.0 L454.9,300.0Z" fill="#92ea40"/>
<path d="M458.5,307.5 L457.9,302.1 L457.3,296.7 L456.8,291.4 L456.4,286.1 L455.9,280.9 L455.6,275.8 L454.5,270.9 L453.3,266.0 L452.0,261.2 L450.8,256.4 L449.6,251.7 L448.4,247.1 L447.2,242.5 L446.0,238.0 L446.0,238.0 L445.7,242.7 L445.5,247.4 L445.3,252.2 L445.3,257.1 L445.3,262.1 L445.3,267.1 L445.5,272.1 L445.9,277.3 L447.1,282.3 L448.3,287.4 L449.5,292.6 L450.8,297.8 L452.2,303.1 L453.5,308.5Z" fill="#8ade3a"/>
<path d="M460.9,298.6 L462.1,295.4 L463.2,292.3 L464.3,289.2 L465.3,286.3 L466.2,283.4 L467.1,280.6 L467.4,277.8 L467.5,275.1 L467.5,272.5 L467.4,270.0 L467.2,267.6 L466.9,265.3 L466.5,263.1 L466.0,261.0 L466.0,261.0 L465.4,263.0 L464.8,265.1 L464.2,267.3 L463.5,269.5 L462.8,271.8 L462.0,274.2 L461.1,276.7 L460.4,279.2 L460.0,282.0 L459.6,284.9 L459.1,287.9 L458.5,291.0 L457.8,294.1 L457.1,297.4Z" fill="#8ade3a"/>
<path d="M499.5,180 Q500,155 500.2,129.2" fill="none" stroke="#7fc048" stroke-width="2.2" stroke-linecap="round"/>
<path d="M498.5,160 Q496.7,152.5 494.9,143" fill="none" stroke="#7fc048" stroke-width="1.6" stroke-linecap="round"/>
<path d="M501,155 Q503.25,147.85 505.5,138.7" fill="none" stroke="#7fc048" stroke-width="1.6" stroke-linecap="round"/>
<path d="M499,150 Q497.75,143.0 496.5,134" fill="none" stroke="#7fc048" stroke-width="1.6" stroke-linecap="round"/>
<path d="M500.5,168 Q502.25,161.0 504,152" fill="none" stroke="#7fc048" stroke-width="1.6" stroke-linecap="round"/>
<path d="M499,172 Q497.25,166.0 495.5,158" fill="none" stroke="#7fc048" stroke-width="1.6" stroke-linecap="round"/>
<path d="M493.5,352.0 L498.7,352.0 L499.3,300.0 L501.4,180.0 L498.6,180.0 L494.9,300.0Z" fill="#92ea40"/>
<path d="M500.5,337.9 L500.6,331.1 L500.6,324.5 L500.6,318.1 L500.6,311.9 L500.4,305.9 L500.3,300.1 L500.0,294.5 L499.5,289.1 L498.1,284.0 L496.6,279.1 L495.1,274.5 L493.5,270.1 L491.9,265.9 L490.0,262.0 L490.0,262.0 L489.8,266.3 L489.7,270.7 L489.6,275.3 L489.4,280.1 L489.2,285.1 L489.0,290.2 L489.5,295.5 L490.2,300.9 L490.9,306.6 L491.5,312.5 L492.1,318.5 L492.6,324.8 L493.1,331.4 L493.5,338.1Z" fill="#8ade3a"/>
<path d="M501.5,336.5 L502.1,333.5 L502.6,330.5 L503.2,327.7 L503.6,324.9 L504.1,322.1 L504.4,319.4 L504.7,316.7 L504.5,314.1 L504.3,311.6 L504.0,309.1 L503.6,306.7 L503.2,304.4 L502.6,302.2 L502.0,300.0 L502.0,300.0 L501.6,302.2 L501.2,304.4 L500.8,306.7 L500.4,309.0 L499.9,311.4 L499.3,313.8 L498.8,316.3 L498.6,318.8 L498.4,321.4 L498.1,324.1 L497.8,326.9 L497.4,329.7 L497.0,332.6 L496.5,335.5Z" fill="#8ade3a"/>
<ellipse cx="491" cy="259.5" rx="3.5" ry="4" fill="#8a8a50"/>
<path d="M398.0,357.0 L430.4,357.0 L430.4,371.8 L398.0,371.8Z" fill="#9a5540"/>
<rect x="394" y="350.2" width="40.39999999999998" height="6.8" fill="#a86048"/>
<path d="M439.7,357.0 L470.3,357.0 L470.3,371.8 L439.7,371.8Z" fill="#9a5540"/>
<rect x="435.7" y="350.2" width="38.60000000000002" height="6.8" fill="#a86048"/>
<path d="M480.0,357.0 L510.2,357.0 L510.2,371.8 L480.0,371.8Z" fill="#9a5540"/>
<rect x="476" y="350.2" width="38.200000000000045" height="6.8" fill="#a86048"/>
</g>
<rect x="364" y="306" width="5" height="53.5" fill="#ffffff"/>
</g>
<text transform="translate(104,403) rotate(-26)" font-family="'Liberation Sans', sans-serif" font-size="21" fill="#000">WT</text>
<text transform="translate(111,428.5) rotate(-26)" font-family="'Liberation Sans', sans-serif" font-size="21" fill="#000">mut2-hete</text>
<text transform="translate(200,408) rotate(-26)" font-family="'Liberation Sans', sans-serif" font-size="21" fill="#000">mut2</text>
<text transform="translate(384,402) rotate(-26)" font-family="'Liberation Sans', sans-serif" font-size="21" fill="#000">WT</text>
<text transform="translate(389,428.5) rotate(-26)" font-family="'Liberation Sans', sans-serif" font-size="21" fill="#000">mut2-hete</text>
<text transform="translate(479,407) rotate(-26)" font-family="'Liberation Sans', sans-serif" font-size="21" fill="#000">mut2</text>
<text x="15.00" y="24.80" font-family="'Liberation Sans', sans-serif" font-size="29" font-weight="bold" text-anchor="middle" fill="#000" >A</text>
<text x="310.50" y="24.80" font-family="'Liberation Sans', sans-serif" font-size="29" font-weight="bold" text-anchor="middle" fill="#000" >B</text>
<rect x="696.95" y="342.90" width="18.95" height="25.10" fill="#ffffff"/>
<path d="M696.95,368.00 L696.95,342.90 L715.90,342.90 L715.90,368.00" fill="none" stroke="#0a0f0f" stroke-width="1.4" stroke-linejoin="miter"/>
<rect x="715.90" y="344.20" width="18.95" height="23.80" fill="#9aa8a0"/>
<path d="M715.90,368.00 L715.90,344.20 L734.85,344.20 L734.85,368.00" fill="none" stroke="#0a0f0f" stroke-width="1.4" stroke-linejoin="miter"/>
<rect x="734.85" y="345.40" width="18.95" height="22.60" fill="#69776f"/>
<path d="M734.85,368.00 L734.85,345.40 L753.80,345.40 L753.80,368.00" fill="none" stroke="#0a0f0f" stroke-width="1.4" stroke-linejoin="miter"/>
<rect x="753.80" y="346.50" width="18.95" height="21.50" fill="#283434"/>
<path d="M753.80,368.00 L753.80,346.50 L772.75,346.50 L772.75,368.00" fill="none" stroke="#0a0f0f" stroke-width="1.4" stroke-linejoin="miter"/>
<rect x="772.75" y="342.60" width="18.95" height="25.40" fill="#020404"/>
<line x1="706.43" y1="341.60" x2="706.43" y2="344.50" stroke="#1e2626" stroke-width="1.7"/>
<line x1="701.43" y1="341.60" x2="711.43" y2="341.60" stroke="#1e2626" stroke-width="1.7"/>
<line x1="701.43" y1="344.50" x2="711.43" y2="344.50" stroke="#1e2626" stroke-width="1.7"/>
<line x1="725.38" y1="342.60" x2="725.38" y2="346.50" stroke="#1e2626" stroke-width="1.7"/>
<line x1="720.38" y1="342.60" x2="730.38" y2="342.60" stroke="#1e2626" stroke-width="1.7"/>
<line x1="720.38" y1="346.50" x2="730.38" y2="346.50" stroke="#1e2626" stroke-width="1.7"/>
<line x1="744.33" y1="343.40" x2="744.33" y2="347.20" stroke="#1e2626" stroke-width="1.7"/>
<line x1="739.33" y1="343.40" x2="749.33" y2="343.40" stroke="#1e2626" stroke-width="1.7"/>
<line x1="739.33" y1="347.20" x2="749.33" y2="347.20" stroke="#1e2626" stroke-width="1.7"/>
<line x1="763.28" y1="344.20" x2="763.28" y2="349.20" stroke="#1e2626" stroke-width="1.7"/>
<line x1="758.28" y1="344.20" x2="768.28" y2="344.20" stroke="#1e2626" stroke-width="1.7"/>
<line x1="758.28" y1="349.20" x2="768.28" y2="349.20" stroke="#1e2626" stroke-width="1.7"/>
<line x1="782.23" y1="341.50" x2="782.23" y2="343.60" stroke="#1e2626" stroke-width="1.7"/>
<line x1="777.23" y1="341.50" x2="787.23" y2="341.50" stroke="#1e2626" stroke-width="1.7"/>
<rect x="805.75" y="316.40" width="18.71" height="51.60" fill="#ffffff"/>
<path d="M805.75,368.00 L805.75,316.40 L824.46,316.40 L824.46,368.00" fill="none" stroke="#0a0f0f" stroke-width="1.4" stroke-linejoin="miter"/>
<rect x="824.46" y="321.40" width="18.71" height="46.60" fill="#9aa8a0"/>
<path d="M824.46,368.00 L824.46,321.40 L843.17,321.40 L843.17,368.00" fill="none" stroke="#0a0f0f" stroke-width="1.4" stroke-linejoin="miter"/>
<rect x="843.17" y="322.20" width="18.71" height="45.80" fill="#69776f"/>
<path d="M843.17,368.00 L843.17,322.20 L861.88,322.20 L861.88,368.00" fill="none" stroke="#0a0f0f" stroke-width="1.4" stroke-linejoin="miter"/>
<rect x="861.88" y="326.30" width="18.71" height="41.70" fill="#283434"/>
<path d="M861.88,368.00 L861.88,326.30 L880.59,326.30 L880.59,368.00" fill="none" stroke="#0a0f0f" stroke-width="1.4" stroke-linejoin="miter"/>
<rect x="880.59" y="318.10" width="18.71" height="49.90" fill="#020404"/>
<line x1="815.11" y1="312.30" x2="815.11" y2="320.50" stroke="#1e2626" stroke-width="1.7"/>
<line x1="810.11" y1="312.30" x2="820.11" y2="312.30" stroke="#1e2626" stroke-width="1.7"/>
<line x1="810.11" y1="320.50" x2="820.11" y2="320.50" stroke="#1e2626" stroke-width="1.7"/>
<line x1="833.82" y1="319.20" x2="833.82" y2="323.90" stroke="#1e2626" stroke-width="1.7"/>
<line x1="828.82" y1="319.20" x2="838.82" y2="319.20" stroke="#1e2626" stroke-width="1.7"/>
<line x1="828.82" y1="323.90" x2="838.82" y2="323.90" stroke="#1e2626" stroke-width="1.7"/>
<line x1="852.52" y1="319.20" x2="852.52" y2="325.50" stroke="#1e2626" stroke-width="1.7"/>
<line x1="847.52" y1="319.20" x2="857.52" y2="319.20" stroke="#1e2626" stroke-width="1.7"/>
<line x1="847.52" y1="325.50" x2="857.52" y2="325.50" stroke="#1e2626" stroke-width="1.7"/>
<line x1="871.24" y1="322.50" x2="871.24" y2="330.10" stroke="#1e2626" stroke-width="1.7"/>
<line x1="866.24" y1="322.50" x2="876.24" y2="322.50" stroke="#1e2626" stroke-width="1.7"/>
<line x1="866.24" y1="330.10" x2="876.24" y2="330.10" stroke="#1e2626" stroke-width="1.7"/>
<line x1="889.94" y1="316.10" x2="889.94" y2="319.10" stroke="#1e2626" stroke-width="1.7"/>
<line x1="884.94" y1="316.10" x2="894.94" y2="316.10" stroke="#1e2626" stroke-width="1.7"/>
<rect x="913.15" y="263.50" width="18.75" height="104.50" fill="#ffffff"/>
<path d="M913.15,368.00 L913.15,263.50 L931.90,263.50 L931.90,368.00" fill="none" stroke="#0a0f0f" stroke-width="1.4" stroke-linejoin="miter"/>
<rect x="931.90" y="267.30" width="18.75" height="100.70" fill="#9aa8a0"/>
<path d="M931.90,368.00 L931.90,267.30 L950.65,267.30 L950.65,368.00" fill="none" stroke="#0a0f0f" stroke-width="1.4" stroke-linejoin="miter"/>
<rect x="950.65" y="279.00" width="18.75" height="89.00" fill="#69776f"/>
<path d="M950.65,368.00 L950.65,279.00 L969.40,279.00 L969.40,368.00" fill="none" stroke="#0a0f0f" stroke-width="1.4" stroke-linejoin="miter"/>
<rect x="969.40" y="277.80" width="18.75" height="90.20" fill="#283434"/>
<path d="M969.40,368.00 L969.40,277.80 L988.15,277.80 L988.15,368.00" fill="none" stroke="#0a0f0f" stroke-width="1.4" stroke-linejoin="miter"/>
<rect x="988.15" y="257.00" width="18.75" height="111.00" fill="#020404"/>
<line x1="922.52" y1="256.10" x2="922.52" y2="270.90" stroke="#1e2626" stroke-width="1.7"/>
<line x1="917.52" y1="256.10" x2="927.52" y2="256.10" stroke="#1e2626" stroke-width="1.7"/>
<line x1="917.52" y1="270.90" x2="927.52" y2="270.90" stroke="#1e2626" stroke-width="1.7"/>
<line x1="941.27" y1="262.30" x2="941.27" y2="273.00" stroke="#1e2626" stroke-width="1.7"/>
<line x1="936.27" y1="262.30" x2="946.27" y2="262.30" stroke="#1e2626" stroke-width="1.7"/>
<line x1="936.27" y1="273.00" x2="946.27" y2="273.00" stroke="#1e2626" stroke-width="1.7"/>
<line x1="960.02" y1="273.80" x2="960.02" y2="284.50" stroke="#1e2626" stroke-width="1.7"/>
<line x1="955.02" y1="273.80" x2="965.02" y2="273.80" stroke="#1e2626" stroke-width="1.7"/>
<line x1="955.02" y1="284.50" x2="965.02" y2="284.50" stroke="#1e2626" stroke-width="1.7"/>
<line x1="978.77" y1="270.70" x2="978.77" y2="285.90" stroke="#1e2626" stroke-width="1.7"/>
<line x1="973.77" y1="270.70" x2="983.77" y2="270.70" stroke="#1e2626" stroke-width="1.7"/>
<line x1="973.77" y1="285.90" x2="983.77" y2="285.90" stroke="#1e2626" stroke-width="1.7"/>
<line x1="997.52" y1="254.60" x2="997.52" y2="258.00" stroke="#1e2626" stroke-width="1.7"/>
<line x1="992.52" y1="254.60" x2="1002.52" y2="254.60" stroke="#1e2626" stroke-width="1.7"/>
<rect x="1021.05" y="214.90" width="18.81" height="153.10" fill="#ffffff"/>
<path d="M1021.05,368.00 L1021.05,214.90 L1039.86,214.90 L1039.86,368.00" fill="none" stroke="#0a0f0f" stroke-width="1.4" stroke-linejoin="miter"/>
<rect x="1039.86" y="212.80" width="18.81" height="155.20" fill="#9aa8a0"/>
<path d="M1039.86,368.00 L1039.86,212.80 L1058.67,212.80 L1058.67,368.00" fill="none" stroke="#0a0f0f" stroke-width="1.4" stroke-linejoin="miter"/>
<rect x="1058.67" y="241.30" width="18.81" height="126.70" fill="#69776f"/>
<path d="M1058.67,368.00 L1058.67,241.30 L1077.48,241.30 L1077.48,368.00" fill="none" stroke="#0a0f0f" stroke-width="1.4" stroke-linejoin="miter"/>
<rect x="1077.48" y="228.60" width="18.81" height="139.40" fill="#283434"/>
<path d="M1077.48,368.00 L1077.48,228.60 L1096.29,228.60 L1096.29,368.00" fill="none" stroke="#0a0f0f" stroke-width="1.4" stroke-linejoin="miter"/>
<rect x="1096.29" y="200.20" width="18.81" height="167.80" fill="#020404"/>
<line x1="1030.45" y1="201.30" x2="1030.45" y2="228.20" stroke="#1e2626" stroke-width="1.7"/>
<line x1="1025.45" y1="201.30" x2="1035.45" y2="201.30" stroke="#1e2626" stroke-width="1.7"/>
<line x1="1025.45" y1="228.20" x2="1035.45" y2="228.20" stroke="#1e2626" stroke-width="1.7"/>
<line x1="1049.26" y1="204.60" x2="1049.26" y2="221.30" stroke="#1e2626" stroke-width="1.7"/>
<line x1="1044.26" y1="204.60" x2="1054.26" y2="204.60" stroke="#1e2626" stroke-width="1.7"/>
<line x1="1044.26" y1="221.30" x2="1054.26" y2="221.30" stroke="#1e2626" stroke-width="1.7"/>
<line x1="1068.07" y1="232.30" x2="1068.07" y2="250.00" stroke="#1e2626" stroke-width="1.7"/>
<line x1="1063.07" y1="232.30" x2="1073.07" y2="232.30" stroke="#1e2626" stroke-width="1.7"/>
<line x1="1063.07" y1="250.00" x2="1073.07" y2="250.00" stroke="#1e2626" stroke-width="1.7"/>
<line x1="1086.88" y1="217.40" x2="1086.88" y2="240.10" stroke="#1e2626" stroke-width="1.7"/>
<line x1="1081.88" y1="217.40" x2="1091.88" y2="217.40" stroke="#1e2626" stroke-width="1.7"/>
<line x1="1081.88" y1="240.10" x2="1091.88" y2="240.10" stroke="#1e2626" stroke-width="1.7"/>
<line x1="1105.69" y1="196.10" x2="1105.69" y2="201.20" stroke="#1e2626" stroke-width="1.7"/>
<line x1="1100.69" y1="196.10" x2="1110.69" y2="196.10" stroke="#1e2626" stroke-width="1.7"/>
<rect x="1128.55" y="149.70" width="18.91" height="218.30" fill="#ffffff"/>
<path d="M1128.55,368.00 L1128.55,149.70 L1147.46,149.70 L1147.46,368.00" fill="none" stroke="#0a0f0f" stroke-width="1.4" stroke-linejoin="miter"/>
<rect x="1147.46" y="140.10" width="18.91" height="227.90" fill="#9aa8a0"/>
<path d="M1147.46,368.00 L1147.46,140.10 L1166.37,140.10 L1166.37,368.00" fill="none" stroke="#0a0f0f" stroke-width="1.4" stroke-linejoin="miter"/>
<rect x="1166.37" y="181.80" width="18.91" height="186.20" fill="#69776f"/>
<path d="M1166.37,368.00 L1166.37,181.80 L1185.28,181.80 L1185.28,368.00" fill="none" stroke="#0a0f0f" stroke-width="1.4" stroke-linejoin="miter"/>
<rect x="1185.28" y="189.20" width="18.91" height="178.80" fill="#283434"/>
<path d="M1185.28,368.00 L1185.28,189.20 L1204.19,189.20 L1204.19,368.00" fill="none" stroke="#0a0f0f" stroke-width="1.4" stroke-linejoin="miter"/>
<rect x="1204.19" y="124.10" width="18.91" height="243.90" fill="#020404"/>
<line x1="1138.00" y1="132.10" x2="1138.00" y2="166.40" stroke="#1e2626" stroke-width="1.7"/>
<line x1="1133.00" y1="132.10" x2="1143.00" y2="132.10" stroke="#1e2626" stroke-width="1.7"/>
<line x1="1133.00" y1="166.40" x2="1143.00" y2="166.40" stroke="#1e2626" stroke-width="1.7"/>
<line x1="1156.91" y1="127.30" x2="1156.91" y2="152.90" stroke="#1e2626" stroke-width="1.7"/>
<line x1="1151.91" y1="127.30" x2="1161.91" y2="127.30" stroke="#1e2626" stroke-width="1.7"/>
<line x1="1151.91" y1="152.90" x2="1161.91" y2="152.90" stroke="#1e2626" stroke-width="1.7"/>
<line x1="1175.82" y1="164.20" x2="1175.82" y2="200.10" stroke="#1e2626" stroke-width="1.7"/>
<line x1="1170.82" y1="164.20" x2="1180.82" y2="164.20" stroke="#1e2626" stroke-width="1.7"/>
<line x1="1170.82" y1="200.10" x2="1180.82" y2="200.10" stroke="#1e2626" stroke-width="1.7"/>
<line x1="1194.73" y1="174.40" x2="1194.73" y2="203.30" stroke="#1e2626" stroke-width="1.7"/>
<line x1="1189.73" y1="174.40" x2="1199.73" y2="174.40" stroke="#1e2626" stroke-width="1.7"/>
<line x1="1189.73" y1="203.30" x2="1199.73" y2="203.30" stroke="#1e2626" stroke-width="1.7"/>
<line x1="1213.64" y1="118.60" x2="1213.64" y2="125.10" stroke="#1e2626" stroke-width="1.7"/>
<line x1="1208.64" y1="118.60" x2="1218.64" y2="118.60" stroke="#1e2626" stroke-width="1.7"/>
<rect x="1236.25" y="90.60" width="18.95" height="277.40" fill="#ffffff"/>
<path d="M1236.25,368.00 L1236.25,90.60 L1255.20,90.60 L1255.20,368.00" fill="none" stroke="#0a0f0f" stroke-width="1.4" stroke-linejoin="miter"/>
<rect x="1255.20" y="97.70" width="18.95" height="270.30" fill="#9aa8a0"/>
<path d="M1255.20,368.00 L1255.20,97.70 L1274.15,97.70 L1274.15,368.00" fill="none" stroke="#0a0f0f" stroke-width="1.4" stroke-linejoin="miter"/>
<rect x="1274.15" y="139.30" width="18.95" height="228.70" fill="#69776f"/>
<path d="M1274.15,368.00 L1274.15,139.30 L1293.10,139.30 L1293.10,368.00" fill="none" stroke="#0a0f0f" stroke-width="1.4" stroke-linejoin="miter"/>
<rect x="1293.10" y="149.90" width="18.95" height="218.10" fill="#283434"/>
<path d="M1293.10,368.00 L1293.10,149.90 L1312.05,149.90 L1312.05,368.00" fill="none" stroke="#0a0f0f" stroke-width="1.4" stroke-linejoin="miter"/>
<rect x="1312.05" y="73.10" width="18.95" height="294.90" fill="#020404"/>
<line x1="1245.72" y1="69.20" x2="1245.72" y2="112.80" stroke="#1e2626" stroke-width="1.7"/>
<line x1="1240.72" y1="69.20" x2="1250.72" y2="69.20" stroke="#1e2626" stroke-width="1.7"/>
<line x1="1240.72" y1="112.80" x2="1250.72" y2="112.80" stroke="#1e2626" stroke-width="1.7"/>
<line x1="1264.67" y1="84.00" x2="1264.67" y2="112.00" stroke="#1e2626" stroke-width="1.7"/>
<line x1="1259.67" y1="84.00" x2="1269.67" y2="84.00" stroke="#1e2626" stroke-width="1.7"/>
<line x1="1259.67" y1="112.00" x2="1269.67" y2="112.00" stroke="#1e2626" stroke-width="1.7"/>
<line x1="1283.62" y1="119.90" x2="1283.62" y2="158.00" stroke="#1e2626" stroke-width="1.7"/>
<line x1="1278.62" y1="119.90" x2="1288.62" y2="119.90" stroke="#1e2626" stroke-width="1.7"/>
<line x1="1278.62" y1="158.00" x2="1288.62" y2="158.00" stroke="#1e2626" stroke-width="1.7"/>
<line x1="1302.57" y1="131.50" x2="1302.57" y2="167.80" stroke="#1e2626" stroke-width="1.7"/>
<line x1="1297.57" y1="131.50" x2="1307.57" y2="131.50" stroke="#1e2626" stroke-width="1.7"/>
<line x1="1297.57" y1="167.80" x2="1307.57" y2="167.80" stroke="#1e2626" stroke-width="1.7"/>
<line x1="1321.52" y1="66.10" x2="1321.52" y2="74.10" stroke="#1e2626" stroke-width="1.7"/>
<line x1="1316.52" y1="66.10" x2="1326.52" y2="66.10" stroke="#1e2626" stroke-width="1.7"/>
<rect x="1344.95" y="81.50" width="18.71" height="286.50" fill="#ffffff"/>
<path d="M1344.95,368.00 L1344.95,81.50 L1363.66,81.50 L1363.66,368.00" fill="none" stroke="#0a0f0f" stroke-width="1.4" stroke-linejoin="miter"/>
<rect x="1363.66" y="76.90" width="18.71" height="291.10" fill="#9aa8a0"/>
<path d="M1363.66,368.00 L1363.66,76.90 L1382.37,76.90 L1382.37,368.00" fill="none" stroke="#0a0f0f" stroke-width="1.4" stroke-linejoin="miter"/>
<rect x="1382.37" y="106.00" width="18.71" height="262.00" fill="#69776f"/>
<path d="M1382.37,368.00 L1382.37,106.00 L1401.08,106.00 L1401.08,368.00" fill="none" stroke="#0a0f0f" stroke-width="1.4" stroke-linejoin="miter"/>
<rect x="1401.08" y="117.00" width="18.71" height="251.00" fill="#283434"/>
<path d="M1401.08,368.00 L1401.08,117.00 L1419.79,117.00 L1419.79,368.00" fill="none" stroke="#0a0f0f" stroke-width="1.4" stroke-linejoin="miter"/>
<rect x="1419.79" y="30.50" width="18.71" height="337.50" fill="#020404"/>
<line x1="1354.31" y1="66.10" x2="1354.31" y2="97.50" stroke="#1e2626" stroke-width="1.7"/>
<line x1="1349.31" y1="66.10" x2="1359.31" y2="66.10" stroke="#1e2626" stroke-width="1.7"/>
<line x1="1349.31" y1="97.50" x2="1359.31" y2="97.50" stroke="#1e2626" stroke-width="1.7"/>
<line x1="1373.02" y1="63.10" x2="1373.02" y2="90.00" stroke="#1e2626" stroke-width="1.7"/>
<line x1="1368.02" y1="63.10" x2="1378.02" y2="63.10" stroke="#1e2626" stroke-width="1.7"/>
<line x1="1368.02" y1="90.00" x2="1378.02" y2="90.00" stroke="#1e2626" stroke-width="1.7"/>
<line x1="1391.73" y1="90.60" x2="1391.73" y2="120.90" stroke="#1e2626" stroke-width="1.7"/>
<line x1="1386.73" y1="90.60" x2="1396.73" y2="90.60" stroke="#1e2626" stroke-width="1.7"/>
<line x1="1386.73" y1="120.90" x2="1396.73" y2="120.90" stroke="#1e2626" stroke-width="1.7"/>
<line x1="1410.43" y1="101.40" x2="1410.43" y2="132.40" stroke="#1e2626" stroke-width="1.7"/>
<line x1="1405.43" y1="101.40" x2="1415.43" y2="101.40" stroke="#1e2626" stroke-width="1.7"/>
<line x1="1405.43" y1="132.40" x2="1415.43" y2="132.40" stroke="#1e2626" stroke-width="1.7"/>
<line x1="1429.14" y1="23.40" x2="1429.14" y2="31.50" stroke="#1e2626" stroke-width="1.7"/>
<line x1="1424.14" y1="23.40" x2="1434.14" y2="23.40" stroke="#1e2626" stroke-width="1.7"/>
<line x1="688.50" y1="10.70" x2="1447.00" y2="10.70" stroke="#000" stroke-width="3"/>
<line x1="1445.50" y1="9.20" x2="1445.50" y2="370.00" stroke="#000" stroke-width="3"/>
<line x1="690.00" y1="9.20" x2="690.00" y2="374.00" stroke="#000" stroke-width="3.4"/>
<line x1="683.00" y1="368.00" x2="1447.00" y2="368.00" stroke="#000" stroke-width="3.6"/>
<line x1="683.00" y1="368.00" x2="690.00" y2="368.00" stroke="#000" stroke-width="3.2"/>
<text x="667.30" y="371.60" font-family="'Liberation Serif', serif" font-size="20.5" font-weight="normal" text-anchor="end" fill="#000" >0</text>
<line x1="683.00" y1="326.00" x2="690.00" y2="326.00" stroke="#000" stroke-width="3.2"/>
<text x="667.30" y="329.60" font-family="'Liberation Serif', serif" font-size="20.5" font-weight="normal" text-anchor="end" fill="#000" >20</text>
<line x1="683.00" y1="284.00" x2="690.00" y2="284.00" stroke="#000" stroke-width="3.2"/>
<text x="667.30" y="287.60" font-family="'Liberation Serif', serif" font-size="20.5" font-weight="normal" text-anchor="end" fill="#000" >40</text>
<line x1="683.00" y1="242.00" x2="690.00" y2="242.00" stroke="#000" stroke-width="3.2"/>
<text x="667.30" y="245.60" font-family="'Liberation Serif', serif" font-size="20.5" font-weight="normal" text-anchor="end" fill="#000" >60</text>
<line x1="683.00" y1="200.00" x2="690.00" y2="200.00" stroke="#000" stroke-width="3.2"/>
<text x="667.30" y="203.60" font-family="'Liberation Serif', serif" font-size="20.5" font-weight="normal" text-anchor="end" fill="#000" >80</text>
<line x1="683.00" y1="158.00" x2="690.00" y2="158.00" stroke="#000" stroke-width="3.2"/>
<text x="667.30" y="161.60" font-family="'Liberation Serif', serif" font-size="20.5" font-weight="normal" text-anchor="end" fill="#000" >100</text>
<line x1="683.00" y1="116.00" x2="690.00" y2="116.00" stroke="#000" stroke-width="3.2"/>
<text x="667.30" y="119.60" font-family="'Liberation Serif', serif" font-size="20.5" font-weight="normal" text-anchor="end" fill="#000" >120</text>
<line x1="683.00" y1="74.00" x2="690.00" y2="74.00" stroke="#000" stroke-width="3.2"/>
<text x="667.30" y="77.60" font-family="'Liberation Serif', serif" font-size="20.5" font-weight="normal" text-anchor="end" fill="#000" >140</text>
<line x1="683.00" y1="32.00" x2="690.00" y2="32.00" stroke="#000" stroke-width="3.2"/>
<text x="667.30" y="35.60" font-family="'Liberation Serif', serif" font-size="20.5" font-weight="normal" text-anchor="end" fill="#000" >160</text>
<line x1="690.00" y1="368.00" x2="690.00" y2="374.00" stroke="#000" stroke-width="4"/>
<line x1="797.83" y1="368.00" x2="797.83" y2="374.00" stroke="#000" stroke-width="4"/>
<line x1="905.66" y1="368.00" x2="905.66" y2="374.00" stroke="#000" stroke-width="4"/>
<line x1="1013.49" y1="368.00" x2="1013.49" y2="374.00" stroke="#000" stroke-width="4"/>
<line x1="1121.32" y1="368.00" x2="1121.32" y2="374.00" stroke="#000" stroke-width="4"/>
<line x1="1229.15" y1="368.00" x2="1229.15" y2="374.00" stroke="#000" stroke-width="4"/>
<line x1="1336.98" y1="368.00" x2="1336.98" y2="374.00" stroke="#000" stroke-width="4"/>
<line x1="1444.81" y1="368.00" x2="1444.81" y2="374.00" stroke="#000" stroke-width="4"/>
<text x="743.91" y="395.60" font-family="'Liberation Serif', serif" font-size="19" font-weight="bold" text-anchor="middle" fill="#000" >1</text>
<text x="851.75" y="395.60" font-family="'Liberation Serif', serif" font-size="19" font-weight="bold" text-anchor="middle" fill="#000" >2</text>
<text x="959.57" y="395.60" font-family="'Liberation Serif', serif" font-size="19" font-weight="bold" text-anchor="middle" fill="#000" >3</text>
<text x="1067.40" y="395.60" font-family="'Liberation Serif', serif" font-size="19" font-weight="bold" text-anchor="middle" fill="#000" >4</text>
<text x="1175.23" y="395.60" font-family="'Liberation Serif', serif" font-size="19" font-weight="bold" text-anchor="middle" fill="#000" >5</text>
<text x="1283.07" y="395.60" font-family="'Liberation Serif', serif" font-size="19" font-weight="bold" text-anchor="middle" fill="#000" >6</text>
<text x="1390.89" y="395.60" font-family="'Liberation Serif', serif" font-size="19" font-weight="bold" text-anchor="middle" fill="#000" >7</text>
<text x="1406.10" y="410.90" font-family="'Liberation Sans', sans-serif" font-size="24" font-weight="normal" text-anchor="middle" fill="#000" >(week)</text>
<text transform="translate(621.8,189) rotate(-90)" font-family="'Liberation Sans', sans-serif" font-size="20.3" font-weight="bold" text-anchor="middle" fill="#000">Plant heighe(cm)</text>
<rect x="695.30" y="34.30" width="9.00" height="8.60" fill="#ffffff" stroke="#0a0f0f" stroke-width="1.6"/>
<text x="708.30" y="48.40" font-family="'Liberation Sans', sans-serif" font-size="18.1" font-weight="normal" text-anchor="start" fill="#000" >mut1-hete</text>
<rect x="802.10" y="34.30" width="9.00" height="8.60" fill="#9aa8a0" stroke="#0a0f0f" stroke-width="1.6"/>
<text x="814.50" y="48.40" font-family="'Liberation Sans', sans-serif" font-size="18.1" font-weight="normal" text-anchor="start" fill="#000" >mut2-hete</text>
<rect x="908.00" y="34.30" width="9.00" height="8.60" fill="#69776f" stroke="#0a0f0f" stroke-width="1.6"/>
<text x="921.70" y="48.40" font-family="'Liberation Sans', sans-serif" font-size="18.1" font-weight="normal" text-anchor="start" fill="#000" >mut1</text>
<rect x="972.20" y="34.30" width="9.00" height="8.60" fill="#283434" stroke="#0a0f0f" stroke-width="1.6"/>
<text x="985.40" y="48.40" font-family="'Liberation Sans', sans-serif" font-size="18.1" font-weight="normal" text-anchor="start" fill="#000" >mut2</text>
<rect x="1035.30" y="33.50" width="10.60" height="10.20" fill="#020404"/>
<text x="1048.40" y="48.40" font-family="'Liberation Sans', sans-serif" font-size="18.1" font-weight="normal" text-anchor="start" fill="#000" >WT</text>
<text x="959.30" y="262.90" font-family="'Liberation Sans', sans-serif" font-size="19" font-weight="normal" text-anchor="middle" fill="#000" >**</text>
<text x="979.50" y="262.30" font-family="'Liberation Sans', sans-serif" font-size="19" font-weight="normal" text-anchor="middle" fill="#000" >*</text>
<text x="1069.80" y="209.90" font-family="'Liberation Sans', sans-serif" font-size="19" font-weight="normal" text-anchor="middle" fill="#000" >**</text>
<text x="1085.00" y="207.30" font-family="'Liberation Sans', sans-serif" font-size="19" font-weight="normal" text-anchor="middle" fill="#000" >*</text>
<text x="1176.00" y="153.80" font-family="'Liberation Sans', sans-serif" font-size="19" font-weight="normal" text-anchor="middle" fill="#000" >**</text>
<text x="1193.50" y="153.80" font-family="'Liberation Sans', sans-serif" font-size="19" font-weight="normal" text-anchor="middle" fill="#000" >**</text>
<text x="1284.40" y="110.30" font-family="'Liberation Sans', sans-serif" font-size="19" font-weight="normal" text-anchor="middle" fill="#000" >**</text>
<text x="1302.00" y="110.30" font-family="'Liberation Sans', sans-serif" font-size="19" font-weight="normal" text-anchor="middle" fill="#000" >**</text>
<text x="1350.50" y="55.60" font-family="'Liberation Sans', sans-serif" font-size="19" font-weight="normal" text-anchor="middle" fill="#000" >*</text>
<text x="1371.00" y="54.50" font-family="'Liberation Sans', sans-serif" font-size="19" font-weight="normal" text-anchor="middle" fill="#000" >**</text>
<text x="1392.50" y="79.70" font-family="'Liberation Sans', sans-serif" font-size="19" font-weight="normal" text-anchor="middle" fill="#000" >**</text>
<text x="1410.50" y="82.00" font-family="'Liberation Sans', sans-serif" font-size="19" font-weight="normal" text-anchor="middle" fill="#000" >**</text>
<text x="611.50" y="24.80" font-family="'Liberation Sans', sans-serif" font-size="29" font-weight="bold" text-anchor="middle" fill="#000" >C</text>
<rect x="87.35" y="615.80" width="26.29" height="209.40" fill="#ffffff"/>
<path d="M87.35,825.20 L87.35,615.80 L113.64,615.80 L113.64,825.20" fill="none" stroke="#0a0f0f" stroke-width="1.5" stroke-linejoin="miter"/>
<rect x="113.64" y="571.40" width="26.29" height="253.80" fill="#9aa8a0"/>
<path d="M113.64,825.20 L113.64,571.40 L139.93,571.40 L139.93,825.20" fill="none" stroke="#0a0f0f" stroke-width="1.5" stroke-linejoin="miter"/>
<rect x="139.93" y="600.40" width="26.29" height="224.80" fill="#69776f"/>
<path d="M139.93,825.20 L139.93,600.40 L166.22,600.40 L166.22,825.20" fill="none" stroke="#0a0f0f" stroke-width="1.5" stroke-linejoin="miter"/>
<rect x="166.22" y="641.90" width="26.29" height="183.30" fill="#283434"/>
<path d="M166.22,825.20 L166.22,641.90 L192.51,641.90 L192.51,825.20" fill="none" stroke="#0a0f0f" stroke-width="1.5" stroke-linejoin="miter"/>
<rect x="192.51" y="516.60" width="26.29" height="308.60" fill="#020404"/>
<line x1="100.49" y1="585.50" x2="100.49" y2="646.90" stroke="#1e2626" stroke-width="1.5"/>
<line x1="95.49" y1="585.50" x2="105.49" y2="585.50" stroke="#1e2626" stroke-width="1.5"/>
<line x1="95.49" y1="646.90" x2="105.49" y2="646.90" stroke="#1e2626" stroke-width="1.5"/>
<line x1="126.78" y1="546.90" x2="126.78" y2="595.70" stroke="#1e2626" stroke-width="1.5"/>
<line x1="121.78" y1="546.90" x2="131.78" y2="546.90" stroke="#1e2626" stroke-width="1.5"/>
<line x1="121.78" y1="595.70" x2="131.78" y2="595.70" stroke="#1e2626" stroke-width="1.5"/>
<line x1="153.08" y1="568.10" x2="153.08" y2="632.30" stroke="#1e2626" stroke-width="1.5"/>
<line x1="148.08" y1="568.10" x2="158.08" y2="568.10" stroke="#1e2626" stroke-width="1.5"/>
<line x1="148.08" y1="632.30" x2="158.08" y2="632.30" stroke="#1e2626" stroke-width="1.5"/>
<line x1="179.37" y1="596.50" x2="179.37" y2="685.20" stroke="#1e2626" stroke-width="1.5"/>
<line x1="174.37" y1="596.50" x2="184.37" y2="596.50" stroke="#1e2626" stroke-width="1.5"/>
<line x1="174.37" y1="685.20" x2="184.37" y2="685.20" stroke="#1e2626" stroke-width="1.5"/>
<line x1="205.66" y1="489.60" x2="205.66" y2="517.60" stroke="#1e2626" stroke-width="1.5"/>
<line x1="200.66" y1="489.60" x2="210.66" y2="489.60" stroke="#1e2626" stroke-width="1.5"/>
<rect x="238.65" y="581.50" width="26.29" height="243.70" fill="#ffffff"/>
<path d="M238.65,825.20 L238.65,581.50 L264.94,581.50 L264.94,825.20" fill="none" stroke="#0a0f0f" stroke-width="1.5" stroke-linejoin="miter"/>
<rect x="264.94" y="586.20" width="26.29" height="239.00" fill="#9aa8a0"/>
<path d="M264.94,825.20 L264.94,586.20 L291.23,586.20 L291.23,825.20" fill="none" stroke="#0a0f0f" stroke-width="1.5" stroke-linejoin="miter"/>
<rect x="291.23" y="626.20" width="26.29" height="199.00" fill="#69776f"/>
<path d="M291.23,825.20 L291.23,626.20 L317.52,626.20 L317.52,825.20" fill="none" stroke="#0a0f0f" stroke-width="1.5" stroke-linejoin="miter"/>
<rect x="317.52" y="653.70" width="26.29" height="171.50" fill="#283434"/>
<path d="M317.52,825.20 L317.52,653.70 L343.81,653.70 L343.81,825.20" fill="none" stroke="#0a0f0f" stroke-width="1.5" stroke-linejoin="miter"/>
<rect x="343.81" y="513.20" width="26.29" height="312.00" fill="#020404"/>
<line x1="251.80" y1="548.50" x2="251.80" y2="616.00" stroke="#1e2626" stroke-width="1.5"/>
<line x1="246.80" y1="548.50" x2="256.80" y2="548.50" stroke="#1e2626" stroke-width="1.5"/>
<line x1="246.80" y1="616.00" x2="256.80" y2="616.00" stroke="#1e2626" stroke-width="1.5"/>
<line x1="278.08" y1="568.60" x2="278.08" y2="604.10" stroke="#1e2626" stroke-width="1.5"/>
<line x1="273.08" y1="568.60" x2="283.08" y2="568.60" stroke="#1e2626" stroke-width="1.5"/>
<line x1="273.08" y1="604.10" x2="283.08" y2="604.10" stroke="#1e2626" stroke-width="1.5"/>
<line x1="304.38" y1="599.40" x2="304.38" y2="653.70" stroke="#1e2626" stroke-width="1.5"/>
<line x1="299.38" y1="599.40" x2="309.38" y2="599.40" stroke="#1e2626" stroke-width="1.5"/>
<line x1="299.38" y1="653.70" x2="309.38" y2="653.70" stroke="#1e2626" stroke-width="1.5"/>
<line x1="330.66" y1="618.20" x2="330.66" y2="688.40" stroke="#1e2626" stroke-width="1.5"/>
<line x1="325.66" y1="618.20" x2="335.66" y2="618.20" stroke="#1e2626" stroke-width="1.5"/>
<line x1="325.66" y1="688.40" x2="335.66" y2="688.40" stroke="#1e2626" stroke-width="1.5"/>
<line x1="356.95" y1="480.20" x2="356.95" y2="514.20" stroke="#1e2626" stroke-width="1.5"/>
<line x1="351.95" y1="480.20" x2="361.95" y2="480.20" stroke="#1e2626" stroke-width="1.5"/>
<rect x="389.55" y="592.70" width="26.17" height="232.50" fill="#ffffff"/>
<path d="M389.55,825.20 L389.55,592.70 L415.72,592.70 L415.72,825.20" fill="none" stroke="#0a0f0f" stroke-width="1.5" stroke-linejoin="miter"/>
<rect x="415.72" y="616.10" width="26.17" height="209.10" fill="#9aa8a0"/>
<path d="M415.72,825.20 L415.72,616.10 L441.89,616.10 L441.89,825.20" fill="none" stroke="#0a0f0f" stroke-width="1.5" stroke-linejoin="miter"/>
<rect x="441.89" y="650.60" width="26.17" height="174.60" fill="#69776f"/>
<path d="M441.89,825.20 L441.89,650.60 L468.06,650.60 L468.06,825.20" fill="none" stroke="#0a0f0f" stroke-width="1.5" stroke-linejoin="miter"/>
<rect x="468.06" y="682.80" width="26.17" height="142.40" fill="#283434"/>
<path d="M468.06,825.20 L468.06,682.80 L494.23,682.80 L494.23,825.20" fill="none" stroke="#0a0f0f" stroke-width="1.5" stroke-linejoin="miter"/>
<rect x="494.23" y="538.70" width="26.17" height="286.50" fill="#020404"/>
<line x1="402.63" y1="560.80" x2="402.63" y2="625.50" stroke="#1e2626" stroke-width="1.5"/>
<line x1="397.63" y1="560.80" x2="407.63" y2="560.80" stroke="#1e2626" stroke-width="1.5"/>
<line x1="397.63" y1="625.50" x2="407.63" y2="625.50" stroke="#1e2626" stroke-width="1.5"/>
<line x1="428.81" y1="602.40" x2="428.81" y2="630.50" stroke="#1e2626" stroke-width="1.5"/>
<line x1="423.81" y1="602.40" x2="433.81" y2="602.40" stroke="#1e2626" stroke-width="1.5"/>
<line x1="423.81" y1="630.50" x2="433.81" y2="630.50" stroke="#1e2626" stroke-width="1.5"/>
<line x1="454.97" y1="624.40" x2="454.97" y2="676.70" stroke="#1e2626" stroke-width="1.5"/>
<line x1="449.97" y1="624.40" x2="459.97" y2="624.40" stroke="#1e2626" stroke-width="1.5"/>
<line x1="449.97" y1="676.70" x2="459.97" y2="676.70" stroke="#1e2626" stroke-width="1.5"/>
<line x1="481.14" y1="653.30" x2="481.14" y2="709.80" stroke="#1e2626" stroke-width="1.5"/>
<line x1="476.14" y1="653.30" x2="486.14" y2="653.30" stroke="#1e2626" stroke-width="1.5"/>
<line x1="476.14" y1="709.80" x2="486.14" y2="709.80" stroke="#1e2626" stroke-width="1.5"/>
<line x1="507.31" y1="505.10" x2="507.31" y2="539.70" stroke="#1e2626" stroke-width="1.5"/>
<line x1="502.31" y1="505.10" x2="512.32" y2="505.10" stroke="#1e2626" stroke-width="1.5"/>
<rect x="540.05" y="665.80" width="26.35" height="159.40" fill="#ffffff"/>
<path d="M540.05,825.20 L540.05,665.80 L566.40,665.80 L566.40,825.20" fill="none" stroke="#0a0f0f" stroke-width="1.5" stroke-linejoin="miter"/>
<rect x="566.40" y="657.00" width="26.35" height="168.20" fill="#9aa8a0"/>
<path d="M566.40,825.20 L566.40,657.00 L592.75,657.00 L592.75,825.20" fill="none" stroke="#0a0f0f" stroke-width="1.5" stroke-linejoin="miter"/>
<rect x="592.75" y="693.60" width="26.35" height="131.60" fill="#69776f"/>
<path d="M592.75,825.20 L592.75,693.60 L619.10,693.60 L619.10,825.20" fill="none" stroke="#0a0f0f" stroke-width="1.5" stroke-linejoin="miter"/>
<rect x="619.10" y="718.40" width="26.35" height="106.80" fill="#283434"/>
<path d="M619.10,825.20 L619.10,718.40 L645.45,718.40 L645.45,825.20" fill="none" stroke="#0a0f0f" stroke-width="1.5" stroke-linejoin="miter"/>
<rect x="645.45" y="549.00" width="26.35" height="276.20" fill="#020404"/>
<line x1="553.22" y1="634.40" x2="553.22" y2="697.20" stroke="#1e2626" stroke-width="1.5"/>
<line x1="548.22" y1="634.40" x2="558.22" y2="634.40" stroke="#1e2626" stroke-width="1.5"/>
<line x1="548.22" y1="697.20" x2="558.22" y2="697.20" stroke="#1e2626" stroke-width="1.5"/>
<line x1="579.57" y1="641.80" x2="579.57" y2="672.70" stroke="#1e2626" stroke-width="1.5"/>
<line x1="574.57" y1="641.80" x2="584.57" y2="641.80" stroke="#1e2626" stroke-width="1.5"/>
<line x1="574.57" y1="672.70" x2="584.57" y2="672.70" stroke="#1e2626" stroke-width="1.5"/>
<line x1="605.92" y1="671.30" x2="605.92" y2="716.50" stroke="#1e2626" stroke-width="1.5"/>
<line x1="600.92" y1="671.30" x2="610.92" y2="671.30" stroke="#1e2626" stroke-width="1.5"/>
<line x1="600.92" y1="716.50" x2="610.92" y2="716.50" stroke="#1e2626" stroke-width="1.5"/>
<line x1="632.27" y1="697.20" x2="632.27" y2="737.40" stroke="#1e2626" stroke-width="1.5"/>
<line x1="627.27" y1="697.20" x2="637.27" y2="697.20" stroke="#1e2626" stroke-width="1.5"/>
<line x1="627.27" y1="737.40" x2="637.27" y2="737.40" stroke="#1e2626" stroke-width="1.5"/>
<line x1="658.62" y1="519.80" x2="658.62" y2="550.00" stroke="#1e2626" stroke-width="1.5"/>
<line x1="653.62" y1="519.80" x2="663.62" y2="519.80" stroke="#1e2626" stroke-width="1.5"/>
<rect x="690.85" y="717.50" width="26.33" height="107.70" fill="#ffffff"/>
<path d="M690.85,825.20 L690.85,717.50 L717.18,717.50 L717.18,825.20" fill="none" stroke="#0a0f0f" stroke-width="1.5" stroke-linejoin="miter"/>
<rect x="717.18" y="736.40" width="26.33" height="88.80" fill="#9aa8a0"/>
<path d="M717.18,825.20 L717.18,736.40 L743.51,736.40 L743.51,825.20" fill="none" stroke="#0a0f0f" stroke-width="1.5" stroke-linejoin="miter"/>
<rect x="743.51" y="759.80" width="26.33" height="65.40" fill="#69776f"/>
<path d="M743.51,825.20 L743.51,759.80 L769.84,759.80 L769.84,825.20" fill="none" stroke="#0a0f0f" stroke-width="1.5" stroke-linejoin="miter"/>
<rect x="769.84" y="790.10" width="26.33" height="35.10" fill="#283434"/>
<path d="M769.84,825.20 L769.84,790.10 L796.17,790.10 L796.17,825.20" fill="none" stroke="#0a0f0f" stroke-width="1.5" stroke-linejoin="miter"/>
<rect x="796.17" y="553.70" width="26.33" height="271.50" fill="#020404"/>
<line x1="704.01" y1="691.00" x2="704.01" y2="742.80" stroke="#1e2626" stroke-width="1.5"/>
<line x1="699.01" y1="691.00" x2="709.01" y2="691.00" stroke="#1e2626" stroke-width="1.5"/>
<line x1="699.01" y1="742.80" x2="709.01" y2="742.80" stroke="#1e2626" stroke-width="1.5"/>
<line x1="730.35" y1="722.40" x2="730.35" y2="750.40" stroke="#1e2626" stroke-width="1.5"/>
<line x1="725.35" y1="722.40" x2="735.35" y2="722.40" stroke="#1e2626" stroke-width="1.5"/>
<line x1="725.35" y1="750.40" x2="735.35" y2="750.40" stroke="#1e2626" stroke-width="1.5"/>
<line x1="756.67" y1="735.20" x2="756.67" y2="784.80" stroke="#1e2626" stroke-width="1.5"/>
<line x1="751.67" y1="735.20" x2="761.67" y2="735.20" stroke="#1e2626" stroke-width="1.5"/>
<line x1="751.67" y1="784.80" x2="761.67" y2="784.80" stroke="#1e2626" stroke-width="1.5"/>
<line x1="783.00" y1="769.30" x2="783.00" y2="809.40" stroke="#1e2626" stroke-width="1.5"/>
<line x1="778.00" y1="769.30" x2="788.00" y2="769.30" stroke="#1e2626" stroke-width="1.5"/>
<line x1="778.00" y1="809.40" x2="788.00" y2="809.40" stroke="#1e2626" stroke-width="1.5"/>
<line x1="809.33" y1="525.30" x2="809.33" y2="554.70" stroke="#1e2626" stroke-width="1.5"/>
<line x1="804.33" y1="525.30" x2="814.33" y2="525.30" stroke="#1e2626" stroke-width="1.5"/>
<line x1="76.00" y1="438.00" x2="834.00" y2="438.00" stroke="#000" stroke-width="3"/>
<line x1="832.00" y1="436.60" x2="832.00" y2="827.00" stroke="#000" stroke-width="3.4"/>
<line x1="77.50" y1="436.60" x2="77.50" y2="831.00" stroke="#000" stroke-width="3.4"/>
<line x1="71.00" y1="825.20" x2="834.00" y2="825.20" stroke="#000" stroke-width="3.2"/>
<line x1="71.20" y1="825.20" x2="77.50" y2="825.20" stroke="#000" stroke-width="3.2"/>
<text x="53.50" y="829.50" font-family="'Liberation Sans', sans-serif" font-size="19" font-weight="normal" text-anchor="end" fill="#000" >5</text>
<line x1="71.20" y1="739.10" x2="77.50" y2="739.10" stroke="#000" stroke-width="3.2"/>
<text x="53.50" y="743.40" font-family="'Liberation Sans', sans-serif" font-size="19" font-weight="normal" text-anchor="end" fill="#000" >7</text>
<line x1="71.20" y1="653.00" x2="77.50" y2="653.00" stroke="#000" stroke-width="3.2"/>
<text x="53.50" y="657.30" font-family="'Liberation Sans', sans-serif" font-size="19" font-weight="normal" text-anchor="end" fill="#000" >9</text>
<line x1="71.20" y1="566.90" x2="77.50" y2="566.90" stroke="#000" stroke-width="3.2"/>
<text x="53.50" y="571.20" font-family="'Liberation Sans', sans-serif" font-size="19" font-weight="normal" text-anchor="end" fill="#000" >11</text>
<line x1="71.20" y1="480.80" x2="77.50" y2="480.80" stroke="#000" stroke-width="3.2"/>
<text x="53.50" y="485.10" font-family="'Liberation Sans', sans-serif" font-size="19" font-weight="normal" text-anchor="end" fill="#000" >13</text>
<line x1="77.50" y1="825.00" x2="77.50" y2="830.50" stroke="#000" stroke-width="3"/>
<line x1="228.20" y1="825.00" x2="228.20" y2="830.50" stroke="#000" stroke-width="3"/>
<line x1="379.20" y1="825.00" x2="379.20" y2="830.50" stroke="#000" stroke-width="3"/>
<line x1="529.90" y1="825.00" x2="529.90" y2="830.50" stroke="#000" stroke-width="3"/>
<line x1="681.10" y1="825.00" x2="681.10" y2="830.50" stroke="#000" stroke-width="3"/>
<line x1="831.60" y1="825.00" x2="831.60" y2="830.50" stroke="#000" stroke-width="3"/>
<text x="152.95" y="853.00" font-family="'Liberation Sans', sans-serif" font-size="18.5" font-weight="normal" text-anchor="middle" fill="#000" >3</text>
<text x="304.00" y="853.00" font-family="'Liberation Sans', sans-serif" font-size="18.5" font-weight="normal" text-anchor="middle" fill="#000" >2</text>
<text x="455.15" y="853.00" font-family="'Liberation Sans', sans-serif" font-size="18.5" font-weight="normal" text-anchor="middle" fill="#000" >1</text>
<text x="604.30" y="853.00" font-family="'Liberation Sans', sans-serif" font-size="18.5" font-weight="normal" text-anchor="middle" fill="#000" >-1</text>
<text x="756.35" y="853.00" font-family="'Liberation Sans', sans-serif" font-size="18.5" font-weight="normal" text-anchor="middle" fill="#000" >-2</text>
<text x="402.30" y="868.80" font-family="'Liberation Sans', sans-serif" font-size="21.8" font-weight="normal" text-anchor="middle" fill="#000" >Internodes</text>
<text transform="translate(17.3,632.3) rotate(-90)" font-family="'Liberation Sans', sans-serif" font-size="20" font-weight="bold" text-anchor="middle" fill="#000">Length(cm)</text>
<rect x="102.80" y="463.20" width="9.30" height="8.30" fill="#ffffff" stroke="#0a0f0f" stroke-width="1.6"/>
<text x="116.30" y="470.70" font-family="'Liberation Sans', sans-serif" font-size="18.3" font-weight="normal" text-anchor="start" fill="#000" >mut1-hete</text>
<rect x="218.60" y="463.20" width="9.30" height="8.30" fill="#9aa8a0" stroke="#0a0f0f" stroke-width="1.6"/>
<text x="232.20" y="470.70" font-family="'Liberation Sans', sans-serif" font-size="18.3" font-weight="normal" text-anchor="start" fill="#000" >mut2-hete</text>
<rect x="334.00" y="463.20" width="9.30" height="8.30" fill="#69776f" stroke="#0a0f0f" stroke-width="1.6"/>
<text x="348.40" y="470.70" font-family="'Liberation Sans', sans-serif" font-size="18.3" font-weight="normal" text-anchor="start" fill="#000" >mut1</text>
<rect x="406.90" y="462.40" width="10.90" height="9.90" fill="#283434"/>
<text x="421.90" y="470.70" font-family="'Liberation Sans', sans-serif" font-size="18.3" font-weight="normal" text-anchor="start" fill="#000" >mut2</text>
<rect x="480.50" y="462.40" width="10.90" height="9.90" fill="#020404"/>
<text x="494.40" y="470.70" font-family="'Liberation Sans', sans-serif" font-size="18.3" font-weight="normal" text-anchor="start" fill="#000" >WT</text>
<text x="100.20" y="582.70" font-family="'Liberation Sans', sans-serif" font-size="19" font-weight="normal" text-anchor="middle" fill="#000" >*</text>
<text x="177.20" y="579.30" font-family="'Liberation Sans', sans-serif" font-size="19" font-weight="normal" text-anchor="middle" fill="#000" >*</text>
<text x="303.80" y="593.30" font-family="'Liberation Sans', sans-serif" font-size="19" font-weight="normal" text-anchor="middle" fill="#000" >*</text>
<text x="330.70" y="609.00" font-family="'Liberation Sans', sans-serif" font-size="19" font-weight="normal" text-anchor="middle" fill="#000" >**</text>
<text x="429.10" y="593.30" font-family="'Liberation Sans', sans-serif" font-size="19" font-weight="normal" text-anchor="middle" fill="#000" >*</text>
<text x="455.40" y="619.70" font-family="'Liberation Sans', sans-serif" font-size="19" font-weight="normal" text-anchor="middle" fill="#000" >**</text>
<text x="479.40" y="645.30" font-family="'Liberation Sans', sans-serif" font-size="19" font-weight="normal" text-anchor="middle" fill="#000" >**</text>
<text x="555.20" y="629.30" font-family="'Liberation Sans', sans-serif" font-size="19" font-weight="normal" text-anchor="middle" fill="#000" >*</text>
<text x="580.10" y="632.30" font-family="'Liberation Sans', sans-serif" font-size="19" font-weight="normal" text-anchor="middle" fill="#000" >**</text>
<text x="605.10" y="664.70" font-family="'Liberation Sans', sans-serif" font-size="19" font-weight="normal" text-anchor="middle" fill="#000" >**</text>
<text x="630.30" y="668.30" font-family="'Liberation Sans', sans-serif" font-size="19" font-weight="normal" text-anchor="middle" fill="#000" >**</text>
<text x="704.30" y="687.80" font-family="'Liberation Sans', sans-serif" font-size="19" font-weight="normal" text-anchor="middle" fill="#000" >**</text>
<text x="729.60" y="718.10" font-family="'Liberation Sans', sans-serif" font-size="19" font-weight="normal" text-anchor="middle" fill="#000" >**</text>
<text x="755.70" y="732.10" font-family="'Liberation Sans', sans-serif" font-size="19" font-weight="normal" text-anchor="middle" fill="#000" >**</text>
<text x="781.70" y="763.50" font-family="'Liberation Sans', sans-serif" font-size="19" font-weight="normal" text-anchor="middle" fill="#000" >**</text>
<text x="16.00" y="441.80" font-family="'Liberation Sans', sans-serif" font-size="29" font-weight="bold" text-anchor="middle" fill="#000" >D</text>
<rect x="994.40" y="552.20" width="33.70" height="260.40" fill="#020404"/>
<line x1="1011.25" y1="511.90" x2="1011.25" y2="553.20" stroke="#1e2626" stroke-width="1.5"/>
<line x1="1006.25" y1="511.90" x2="1016.25" y2="511.90" stroke="#1e2626" stroke-width="1.6"/>
<rect x="1090.30" y="641.00" width="34.90" height="171.60" fill="#020404"/>
<line x1="1107.75" y1="610.00" x2="1107.75" y2="642.00" stroke="#1e2626" stroke-width="1.5"/>
<line x1="1102.75" y1="610.00" x2="1112.75" y2="610.00" stroke="#1e2626" stroke-width="1.6"/>
<rect x="1187.10" y="528.90" width="34.60" height="283.70" fill="#020404"/>
<line x1="1204.40" y1="502.90" x2="1204.40" y2="529.90" stroke="#1e2626" stroke-width="1.5"/>
<line x1="1199.40" y1="502.90" x2="1209.40" y2="502.90" stroke="#1e2626" stroke-width="1.6"/>
<rect x="1283.90" y="600.40" width="34.20" height="212.20" fill="#020404"/>
<line x1="1301.00" y1="574.20" x2="1301.00" y2="601.40" stroke="#1e2626" stroke-width="1.5"/>
<line x1="1296.00" y1="574.20" x2="1306.00" y2="574.20" stroke="#1e2626" stroke-width="1.6"/>
<rect x="1381.20" y="496.20" width="33.90" height="316.40" fill="#020404"/>
<line x1="1398.15" y1="480.20" x2="1398.15" y2="497.20" stroke="#1e2626" stroke-width="1.5"/>
<line x1="1393.15" y1="480.20" x2="1403.15" y2="480.20" stroke="#1e2626" stroke-width="1.6"/>
<line x1="961.40" y1="433.50" x2="1447.70" y2="433.50" stroke="#000" stroke-width="3"/>
<line x1="1446.00" y1="432.00" x2="1446.00" y2="814.00" stroke="#000" stroke-width="3.2"/>
<line x1="963.00" y1="432.00" x2="963.00" y2="818.60" stroke="#000" stroke-width="3.4"/>
<line x1="956.30" y1="812.60" x2="1447.70" y2="812.60" stroke="#000" stroke-width="3.1"/>
<line x1="956.30" y1="433.50" x2="963.00" y2="433.50" stroke="#000" stroke-width="3"/>
<text x="938.60" y="437.70" font-family="'Liberation Sans', sans-serif" font-size="20" font-weight="normal" text-anchor="end" fill="#000" >19.0</text>
<line x1="956.30" y1="487.65" x2="963.00" y2="487.65" stroke="#000" stroke-width="3"/>
<text x="938.60" y="491.85" font-family="'Liberation Sans', sans-serif" font-size="20" font-weight="normal" text-anchor="end" fill="#000" >18.5</text>
<line x1="956.30" y1="541.80" x2="963.00" y2="541.80" stroke="#000" stroke-width="3"/>
<text x="938.60" y="546.00" font-family="'Liberation Sans', sans-serif" font-size="20" font-weight="normal" text-anchor="end" fill="#000" >18.0</text>
<line x1="956.30" y1="595.95" x2="963.00" y2="595.95" stroke="#000" stroke-width="3"/>
<text x="938.60" y="600.15" font-family="'Liberation Sans', sans-serif" font-size="20" font-weight="normal" text-anchor="end" fill="#000" >17.5</text>
<line x1="956.30" y1="650.10" x2="963.00" y2="650.10" stroke="#000" stroke-width="3"/>
<text x="938.60" y="654.30" font-family="'Liberation Sans', sans-serif" font-size="20" font-weight="normal" text-anchor="end" fill="#000" >17.0</text>
<line x1="956.30" y1="704.25" x2="963.00" y2="704.25" stroke="#000" stroke-width="3"/>
<text x="938.60" y="708.45" font-family="'Liberation Sans', sans-serif" font-size="20" font-weight="normal" text-anchor="end" fill="#000" >16.5</text>
<line x1="956.30" y1="758.40" x2="963.00" y2="758.40" stroke="#000" stroke-width="3"/>
<text x="938.60" y="762.60" font-family="'Liberation Sans', sans-serif" font-size="20" font-weight="normal" text-anchor="end" fill="#000" >16.0</text>
<line x1="956.30" y1="812.55" x2="963.00" y2="812.55" stroke="#000" stroke-width="3"/>
<text x="938.60" y="816.75" font-family="'Liberation Sans', sans-serif" font-size="20" font-weight="normal" text-anchor="end" fill="#000" >15.5</text>
<line x1="963.00" y1="812.60" x2="963.00" y2="818.60" stroke="#000" stroke-width="3"/>
<line x1="1059.50" y1="812.60" x2="1059.50" y2="818.60" stroke="#000" stroke-width="3"/>
<line x1="1156.00" y1="812.60" x2="1156.00" y2="818.60" stroke="#000" stroke-width="3"/>
<line x1="1252.70" y1="812.60" x2="1252.70" y2="818.60" stroke="#000" stroke-width="3"/>
<line x1="1349.10" y1="812.60" x2="1349.10" y2="818.60" stroke="#000" stroke-width="3"/>
<line x1="1446.00" y1="812.60" x2="1446.00" y2="818.60" stroke="#000" stroke-width="3"/>
<text x="1010.50" y="840.80" font-family="'Liberation Sans', sans-serif" font-size="19.5" font-weight="normal" text-anchor="middle" fill="#000" >mut1</text>
<text x="1108.20" y="840.80" font-family="'Liberation Sans', sans-serif" font-size="19.5" font-weight="normal" text-anchor="middle" fill="#000" >mut2</text>
<text x="1204.30" y="840.80" font-family="'Liberation Sans', sans-serif" font-size="20.6" font-weight="normal" text-anchor="middle" fill="#000" >mut1-hete</text>
<text x="1300.00" y="840.80" font-family="'Liberation Sans', sans-serif" font-size="20.6" font-weight="normal" text-anchor="middle" fill="#000" >mut2-hete</text>
<text x="1396.20" y="840.80" font-family="'Liberation Sans', sans-serif" font-size="19.5" font-weight="normal" text-anchor="middle" fill="#000" >WT</text>
<text transform="translate(888,623.3) rotate(-90)" font-family="'Liberation Sans', sans-serif" font-size="20.5" font-weight="bold" text-anchor="middle" fill="#000">No. of internodes</text>
<line x1="1106.60" y1="593.90" x2="1106.60" y2="600.90" stroke="#0a0a0a" stroke-width="1.5"/>
<line x1="1103.74" y1="595.65" x2="1109.46" y2="599.15" stroke="#0a0a0a" stroke-width="1.5"/>
<line x1="1109.46" y1="595.65" x2="1103.74" y2="599.15" stroke="#0a0a0a" stroke-width="1.5"/>
<line x1="1114.90" y1="593.90" x2="1114.90" y2="600.90" stroke="#0a0a0a" stroke-width="1.5"/>
<line x1="1112.04" y1="595.65" x2="1117.76" y2="599.15" stroke="#0a0a0a" stroke-width="1.5"/>
<line x1="1117.76" y1="595.65" x2="1112.04" y2="599.15" stroke="#0a0a0a" stroke-width="1.5"/>
<line x1="1297.60" y1="563.30" x2="1297.60" y2="570.30" stroke="#0a0a0a" stroke-width="1.5"/>
<line x1="1294.74" y1="565.05" x2="1300.46" y2="568.55" stroke="#0a0a0a" stroke-width="1.5"/>
<line x1="1300.46" y1="565.05" x2="1294.74" y2="568.55" stroke="#0a0a0a" stroke-width="1.5"/>
<line x1="1306.00" y1="563.30" x2="1306.00" y2="570.30" stroke="#0a0a0a" stroke-width="1.5"/>
<line x1="1303.14" y1="565.05" x2="1308.86" y2="568.55" stroke="#0a0a0a" stroke-width="1.5"/>
<line x1="1308.86" y1="565.05" x2="1303.14" y2="568.55" stroke="#0a0a0a" stroke-width="1.5"/>
<text x="866.50" y="438.00" font-family="'Liberation Sans', sans-serif" font-size="29" font-weight="bold" text-anchor="middle" fill="#000" >E</text>
</svg>
</body></html>
